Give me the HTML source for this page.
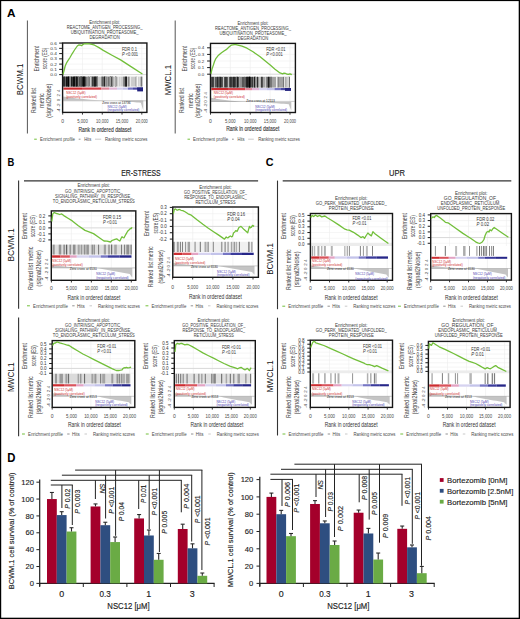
<!DOCTYPE html>
<html><head><meta charset="utf-8"><style>
html,body{margin:0;padding:0;background:#fff;}
body{width:520px;height:619px;overflow:hidden;}
svg{display:block;font-family:"Liberation Sans",sans-serif;}
</style></head><body>
<svg width="520" height="619" viewBox="0 0 520 619">
<rect x="0.00" y="0.00" width="520.00" height="619.00" fill="#fff" />
<text x="6.90" y="16.50" font-size="11.52" font-weight="bold" fill="#000" textLength="8.50" lengthAdjust="spacingAndGlyphs" stroke="#000" stroke-width="0.000">A</text>
<text x="7.40" y="166.30" font-size="11.39" font-weight="bold" fill="#000" textLength="6.80" lengthAdjust="spacingAndGlyphs" stroke="#000" stroke-width="0.000">B</text>
<text x="265.80" y="165.90" font-size="11.11" font-weight="bold" fill="#000" textLength="7.80" lengthAdjust="spacingAndGlyphs" stroke="#000" stroke-width="0.000">C</text>
<text x="7.20" y="461.70" font-size="11.93" font-weight="bold" fill="#000" textLength="8.20" lengthAdjust="spacingAndGlyphs" stroke="#000" stroke-width="0.000">D</text>
<line x1="39.70" y1="479.38" x2="39.70" y2="586.20" stroke="#222" stroke-width="1.2" />
<line x1="39.20" y1="583.40" x2="214.60" y2="583.40" stroke="#222" stroke-width="1.1" />
<line x1="36.40" y1="583.40" x2="39.70" y2="583.40" stroke="#222" stroke-width="1" />
<text x="34.00" y="586.10" font-size="7.6" text-anchor="end" fill="#222" font-weight="normal" stroke="#222" stroke-width="0.137">0</text>
<line x1="36.40" y1="566.53" x2="39.70" y2="566.53" stroke="#222" stroke-width="1" />
<text x="34.00" y="569.23" font-size="7.6" text-anchor="end" fill="#222" font-weight="normal" stroke="#222" stroke-width="0.137">20</text>
<line x1="36.40" y1="549.66" x2="39.70" y2="549.66" stroke="#222" stroke-width="1" />
<text x="34.00" y="552.36" font-size="7.6" text-anchor="end" fill="#222" font-weight="normal" stroke="#222" stroke-width="0.137">40</text>
<line x1="36.40" y1="532.79" x2="39.70" y2="532.79" stroke="#222" stroke-width="1" />
<text x="34.00" y="535.49" font-size="7.6" text-anchor="end" fill="#222" font-weight="normal" stroke="#222" stroke-width="0.137">60</text>
<line x1="36.40" y1="515.92" x2="39.70" y2="515.92" stroke="#222" stroke-width="1" />
<text x="34.00" y="518.62" font-size="7.6" text-anchor="end" fill="#222" font-weight="normal" stroke="#222" stroke-width="0.137">80</text>
<line x1="36.40" y1="499.05" x2="39.70" y2="499.05" stroke="#222" stroke-width="1" />
<text x="34.00" y="501.75" font-size="7.6" text-anchor="end" fill="#222" font-weight="normal" stroke="#222" stroke-width="0.137">100</text>
<line x1="36.40" y1="482.18" x2="39.70" y2="482.18" stroke="#222" stroke-width="1" />
<text x="34.00" y="484.88" font-size="7.6" text-anchor="end" fill="#222" font-weight="normal" stroke="#222" stroke-width="0.137">120</text>
<line x1="39.70" y1="583.40" x2="39.70" y2="587.00" stroke="#222" stroke-width="1" />
<line x1="83.30" y1="583.40" x2="83.30" y2="587.00" stroke="#222" stroke-width="1" />
<line x1="126.90" y1="583.40" x2="126.90" y2="587.00" stroke="#222" stroke-width="1" />
<line x1="170.50" y1="583.40" x2="170.50" y2="587.00" stroke="#222" stroke-width="1" />
<line x1="214.10" y1="583.40" x2="214.10" y2="587.00" stroke="#222" stroke-width="1" />
<rect x="47.00" y="499.05" width="9.80" height="84.35" fill="#a4002b" />
<line x1="51.90" y1="499.05" x2="51.90" y2="492.47" stroke="#2a2a2a" stroke-width="1.1" />
<line x1="49.90" y1="492.47" x2="53.90" y2="492.47" stroke="#2a2a2a" stroke-width="1.1" />
<rect x="56.80" y="515.08" width="9.80" height="68.32" fill="#2e4e80" />
<line x1="61.70" y1="515.08" x2="61.70" y2="511.70" stroke="#2a2a2a" stroke-width="1.1" />
<line x1="59.70" y1="511.70" x2="63.70" y2="511.70" stroke="#2a2a2a" stroke-width="1.1" />
<rect x="66.60" y="531.52" width="9.80" height="51.88" fill="#6aab45" />
<line x1="71.50" y1="531.52" x2="71.50" y2="527.73" stroke="#2a2a2a" stroke-width="1.1" />
<line x1="69.50" y1="527.73" x2="73.50" y2="527.73" stroke="#2a2a2a" stroke-width="1.1" />
<rect x="90.60" y="506.47" width="9.80" height="76.93" fill="#a4002b" />
<line x1="95.50" y1="506.47" x2="95.50" y2="503.94" stroke="#2a2a2a" stroke-width="1.1" />
<line x1="93.50" y1="503.94" x2="97.50" y2="503.94" stroke="#2a2a2a" stroke-width="1.1" />
<rect x="100.40" y="525.20" width="9.80" height="58.20" fill="#2e4e80" />
<line x1="105.30" y1="525.20" x2="105.30" y2="522.25" stroke="#2a2a2a" stroke-width="1.1" />
<line x1="103.30" y1="522.25" x2="107.30" y2="522.25" stroke="#2a2a2a" stroke-width="1.1" />
<rect x="110.20" y="542.07" width="9.80" height="41.33" fill="#6aab45" />
<line x1="115.10" y1="542.07" x2="115.10" y2="537.01" stroke="#2a2a2a" stroke-width="1.1" />
<line x1="113.10" y1="537.01" x2="117.10" y2="537.01" stroke="#2a2a2a" stroke-width="1.1" />
<rect x="134.20" y="518.45" width="9.80" height="64.95" fill="#a4002b" />
<line x1="139.10" y1="518.45" x2="139.10" y2="514.57" stroke="#2a2a2a" stroke-width="1.1" />
<line x1="137.10" y1="514.57" x2="141.10" y2="514.57" stroke="#2a2a2a" stroke-width="1.1" />
<rect x="144.00" y="535.49" width="9.80" height="47.91" fill="#2e4e80" />
<line x1="148.90" y1="535.49" x2="148.90" y2="530.01" stroke="#2a2a2a" stroke-width="1.1" />
<line x1="146.90" y1="530.01" x2="150.90" y2="530.01" stroke="#2a2a2a" stroke-width="1.1" />
<rect x="153.80" y="559.78" width="9.80" height="23.62" fill="#6aab45" />
<line x1="158.70" y1="559.78" x2="158.70" y2="553.46" stroke="#2a2a2a" stroke-width="1.1" />
<line x1="156.70" y1="553.46" x2="160.70" y2="553.46" stroke="#2a2a2a" stroke-width="1.1" />
<rect x="177.80" y="528.99" width="9.80" height="54.41" fill="#a4002b" />
<line x1="182.70" y1="528.99" x2="182.70" y2="524.19" stroke="#2a2a2a" stroke-width="1.1" />
<line x1="180.70" y1="524.19" x2="184.70" y2="524.19" stroke="#2a2a2a" stroke-width="1.1" />
<rect x="187.60" y="548.31" width="9.80" height="35.09" fill="#2e4e80" />
<line x1="192.50" y1="548.31" x2="192.50" y2="543.84" stroke="#2a2a2a" stroke-width="1.1" />
<line x1="190.50" y1="543.84" x2="194.50" y2="543.84" stroke="#2a2a2a" stroke-width="1.1" />
<rect x="197.40" y="575.81" width="9.80" height="7.59" fill="#6aab45" />
<line x1="202.30" y1="575.81" x2="202.30" y2="573.02" stroke="#2a2a2a" stroke-width="1.1" />
<line x1="200.30" y1="573.02" x2="204.30" y2="573.02" stroke="#2a2a2a" stroke-width="1.1" />
<text x="14.10" y="530.90" font-size="8.0" text-anchor="middle" fill="#222" font-weight="normal" textLength="116.80" lengthAdjust="spacingAndGlyphs" transform="rotate(-90 14.10 530.90)" stroke="#222" stroke-width="0.144">BCWM.1 cell survival (% of control)</text>
<text x="61.60" y="596.50" font-size="8.9" text-anchor="middle" fill="#222" font-weight="normal" stroke="#222" stroke-width="0.160">0</text>
<text x="105.10" y="596.50" font-size="8.9" text-anchor="middle" fill="#222" font-weight="normal" textLength="11.30" lengthAdjust="spacingAndGlyphs" stroke="#222" stroke-width="0.160">0.3</text>
<text x="148.70" y="596.50" font-size="8.9" text-anchor="middle" fill="#222" font-weight="normal" stroke="#222" stroke-width="0.160">1</text>
<text x="192.20" y="596.50" font-size="8.9" text-anchor="middle" fill="#222" font-weight="normal" stroke="#222" stroke-width="0.160">3</text>
<text x="128.50" y="609.30" font-size="9.6" text-anchor="middle" fill="#222" font-weight="normal" textLength="42.30" lengthAdjust="spacingAndGlyphs" stroke="#222" stroke-width="0.173">NSC12 [μM]</text>
<line x1="259.80" y1="476.80" x2="259.80" y2="586.20" stroke="#222" stroke-width="1.2" />
<line x1="259.30" y1="583.40" x2="434.70" y2="583.40" stroke="#222" stroke-width="1.1" />
<line x1="256.50" y1="583.40" x2="259.80" y2="583.40" stroke="#222" stroke-width="1" />
<text x="253.30" y="586.10" font-size="7.6" text-anchor="end" fill="#222" font-weight="normal" stroke="#222" stroke-width="0.137">0</text>
<line x1="256.50" y1="566.10" x2="259.80" y2="566.10" stroke="#222" stroke-width="1" />
<text x="253.30" y="568.80" font-size="7.6" text-anchor="end" fill="#222" font-weight="normal" stroke="#222" stroke-width="0.137">20</text>
<line x1="256.50" y1="548.80" x2="259.80" y2="548.80" stroke="#222" stroke-width="1" />
<text x="253.30" y="551.50" font-size="7.6" text-anchor="end" fill="#222" font-weight="normal" stroke="#222" stroke-width="0.137">40</text>
<line x1="256.50" y1="531.50" x2="259.80" y2="531.50" stroke="#222" stroke-width="1" />
<text x="253.30" y="534.20" font-size="7.6" text-anchor="end" fill="#222" font-weight="normal" stroke="#222" stroke-width="0.137">60</text>
<line x1="256.50" y1="514.20" x2="259.80" y2="514.20" stroke="#222" stroke-width="1" />
<text x="253.30" y="516.90" font-size="7.6" text-anchor="end" fill="#222" font-weight="normal" stroke="#222" stroke-width="0.137">80</text>
<line x1="256.50" y1="496.90" x2="259.80" y2="496.90" stroke="#222" stroke-width="1" />
<text x="253.30" y="499.60" font-size="7.6" text-anchor="end" fill="#222" font-weight="normal" stroke="#222" stroke-width="0.137">100</text>
<line x1="256.50" y1="479.60" x2="259.80" y2="479.60" stroke="#222" stroke-width="1" />
<text x="253.30" y="482.30" font-size="7.6" text-anchor="end" fill="#222" font-weight="normal" stroke="#222" stroke-width="0.137">120</text>
<line x1="259.80" y1="583.40" x2="259.80" y2="587.00" stroke="#222" stroke-width="1" />
<line x1="303.40" y1="583.40" x2="303.40" y2="587.00" stroke="#222" stroke-width="1" />
<line x1="347.00" y1="583.40" x2="347.00" y2="587.00" stroke="#222" stroke-width="1" />
<line x1="390.60" y1="583.40" x2="390.60" y2="587.00" stroke="#222" stroke-width="1" />
<line x1="434.20" y1="583.40" x2="434.20" y2="587.00" stroke="#222" stroke-width="1" />
<rect x="266.50" y="496.90" width="9.80" height="86.50" fill="#a4002b" />
<line x1="271.40" y1="496.90" x2="271.40" y2="493.09" stroke="#2a2a2a" stroke-width="1.1" />
<line x1="269.40" y1="493.09" x2="273.40" y2="493.09" stroke="#2a2a2a" stroke-width="1.1" />
<rect x="276.30" y="514.20" width="9.80" height="69.20" fill="#2e4e80" />
<line x1="281.20" y1="514.20" x2="281.20" y2="510.39" stroke="#2a2a2a" stroke-width="1.1" />
<line x1="279.20" y1="510.39" x2="283.20" y2="510.39" stroke="#2a2a2a" stroke-width="1.1" />
<rect x="286.10" y="536.17" width="9.80" height="47.23" fill="#6aab45" />
<line x1="291.00" y1="536.17" x2="291.00" y2="533.49" stroke="#2a2a2a" stroke-width="1.1" />
<line x1="289.00" y1="533.49" x2="293.00" y2="533.49" stroke="#2a2a2a" stroke-width="1.1" />
<rect x="310.10" y="503.99" width="9.80" height="79.41" fill="#a4002b" />
<line x1="315.00" y1="503.99" x2="315.00" y2="500.62" stroke="#2a2a2a" stroke-width="1.1" />
<line x1="313.00" y1="500.62" x2="317.00" y2="500.62" stroke="#2a2a2a" stroke-width="1.1" />
<rect x="319.90" y="523.28" width="9.80" height="60.12" fill="#2e4e80" />
<line x1="324.80" y1="523.28" x2="324.80" y2="520.95" stroke="#2a2a2a" stroke-width="1.1" />
<line x1="322.80" y1="520.95" x2="326.80" y2="520.95" stroke="#2a2a2a" stroke-width="1.1" />
<rect x="329.70" y="544.99" width="9.80" height="38.41" fill="#6aab45" />
<line x1="334.60" y1="544.99" x2="334.60" y2="541.01" stroke="#2a2a2a" stroke-width="1.1" />
<line x1="332.60" y1="541.01" x2="336.60" y2="541.01" stroke="#2a2a2a" stroke-width="1.1" />
<rect x="353.70" y="512.73" width="9.80" height="70.67" fill="#a4002b" />
<line x1="358.60" y1="512.73" x2="358.60" y2="510.05" stroke="#2a2a2a" stroke-width="1.1" />
<line x1="356.60" y1="510.05" x2="360.60" y2="510.05" stroke="#2a2a2a" stroke-width="1.1" />
<rect x="363.50" y="533.49" width="9.80" height="49.91" fill="#2e4e80" />
<line x1="368.40" y1="533.49" x2="368.40" y2="528.39" stroke="#2a2a2a" stroke-width="1.1" />
<line x1="366.40" y1="528.39" x2="370.40" y2="528.39" stroke="#2a2a2a" stroke-width="1.1" />
<rect x="373.30" y="559.53" width="9.80" height="23.87" fill="#6aab45" />
<line x1="378.20" y1="559.53" x2="378.20" y2="553.04" stroke="#2a2a2a" stroke-width="1.1" />
<line x1="376.20" y1="553.04" x2="380.20" y2="553.04" stroke="#2a2a2a" stroke-width="1.1" />
<rect x="397.30" y="528.82" width="9.80" height="54.58" fill="#a4002b" />
<line x1="402.20" y1="528.82" x2="402.20" y2="526.05" stroke="#2a2a2a" stroke-width="1.1" />
<line x1="400.20" y1="526.05" x2="404.20" y2="526.05" stroke="#2a2a2a" stroke-width="1.1" />
<rect x="407.10" y="547.33" width="9.80" height="36.07" fill="#2e4e80" />
<line x1="412.00" y1="547.33" x2="412.00" y2="544.99" stroke="#2a2a2a" stroke-width="1.1" />
<line x1="410.00" y1="544.99" x2="414.00" y2="544.99" stroke="#2a2a2a" stroke-width="1.1" />
<rect x="416.90" y="573.19" width="9.80" height="10.21" fill="#6aab45" />
<line x1="421.80" y1="573.19" x2="421.80" y2="566.45" stroke="#2a2a2a" stroke-width="1.1" />
<line x1="419.80" y1="566.45" x2="423.80" y2="566.45" stroke="#2a2a2a" stroke-width="1.1" />
<text x="233.00" y="529.65" font-size="8.0" text-anchor="middle" fill="#222" font-weight="normal" textLength="114.70" lengthAdjust="spacingAndGlyphs" transform="rotate(-90 233.00 529.65)" stroke="#222" stroke-width="0.144">MWCL.1 cell survival (% of control)</text>
<text x="281.20" y="596.50" font-size="8.9" text-anchor="middle" fill="#222" font-weight="normal" stroke="#222" stroke-width="0.160">0</text>
<text x="324.80" y="596.50" font-size="8.9" text-anchor="middle" fill="#222" font-weight="normal" textLength="11.30" lengthAdjust="spacingAndGlyphs" stroke="#222" stroke-width="0.160">0.3</text>
<text x="368.20" y="596.50" font-size="8.9" text-anchor="middle" fill="#222" font-weight="normal" stroke="#222" stroke-width="0.160">1</text>
<text x="411.50" y="596.50" font-size="8.9" text-anchor="middle" fill="#222" font-weight="normal" stroke="#222" stroke-width="0.160">3</text>
<text x="348.30" y="609.30" font-size="9.6" text-anchor="middle" fill="#222" font-weight="normal" textLength="42.30" lengthAdjust="spacingAndGlyphs" stroke="#222" stroke-width="0.173">NSC12 [μM]</text>
<line x1="75.10" y1="470.10" x2="202.40" y2="470.10" stroke="#222" stroke-width="1" />
<line x1="61.90" y1="475.20" x2="192.20" y2="475.20" stroke="#222" stroke-width="1" />
<line x1="50.80" y1="480.30" x2="181.80" y2="480.30" stroke="#222" stroke-width="1" />
<line x1="50.80" y1="485.00" x2="72.80" y2="485.00" stroke="#222" stroke-width="1" />
<line x1="61.90" y1="485.00" x2="61.90" y2="508.00" stroke="#222" stroke-width="1" />
<line x1="72.30" y1="485.00" x2="72.30" y2="525.00" stroke="#222" stroke-width="1" />
<line x1="95.40" y1="480.30" x2="95.40" y2="499.00" stroke="#222" stroke-width="1" />
<line x1="138.70" y1="480.30" x2="138.70" y2="509.00" stroke="#222" stroke-width="1" />
<line x1="181.30" y1="480.30" x2="181.30" y2="512.30" stroke="#222" stroke-width="1" />
<line x1="105.60" y1="475.20" x2="105.60" y2="518.50" stroke="#222" stroke-width="1" />
<line x1="149.20" y1="475.20" x2="149.20" y2="529.00" stroke="#222" stroke-width="1" />
<line x1="191.70" y1="475.20" x2="191.70" y2="541.50" stroke="#222" stroke-width="1" />
<line x1="115.60" y1="470.10" x2="115.60" y2="535.80" stroke="#222" stroke-width="1" />
<line x1="159.40" y1="470.10" x2="159.40" y2="552.00" stroke="#222" stroke-width="1" />
<line x1="201.90" y1="470.10" x2="201.90" y2="570.00" stroke="#222" stroke-width="1" />
<line x1="294.40" y1="464.20" x2="422.00" y2="464.20" stroke="#222" stroke-width="1" />
<line x1="281.00" y1="469.30" x2="412.80" y2="469.30" stroke="#222" stroke-width="1" />
<line x1="270.40" y1="474.20" x2="402.50" y2="474.20" stroke="#222" stroke-width="1" />
<line x1="270.40" y1="479.40" x2="293.00" y2="479.40" stroke="#222" stroke-width="1" />
<line x1="282.00" y1="479.40" x2="282.00" y2="506.00" stroke="#222" stroke-width="1" />
<line x1="292.50" y1="479.40" x2="292.50" y2="530.00" stroke="#222" stroke-width="1" />
<line x1="316.00" y1="474.20" x2="316.00" y2="497.00" stroke="#222" stroke-width="1" />
<line x1="359.20" y1="474.20" x2="359.20" y2="502.30" stroke="#222" stroke-width="1" />
<line x1="402.00" y1="474.20" x2="402.00" y2="505.80" stroke="#222" stroke-width="1" />
<line x1="325.60" y1="469.30" x2="325.60" y2="517.00" stroke="#222" stroke-width="1" />
<line x1="369.20" y1="469.30" x2="369.20" y2="519.60" stroke="#222" stroke-width="1" />
<line x1="412.30" y1="469.30" x2="412.30" y2="543.80" stroke="#222" stroke-width="1" />
<line x1="334.50" y1="464.20" x2="334.50" y2="537.00" stroke="#222" stroke-width="1" />
<line x1="379.50" y1="464.20" x2="379.50" y2="542.70" stroke="#222" stroke-width="1" />
<line x1="421.50" y1="464.20" x2="421.50" y2="565.80" stroke="#222" stroke-width="1" />
<text x="70.10" y="498.75" font-size="7.4" text-anchor="middle" fill="#222" textLength="20.10" lengthAdjust="spacingAndGlyphs" transform="rotate(-90 70.10 498.75)" stroke="#222" stroke-width="0.133"><tspan font-style="italic">P</tspan> 0.02</text>
<text x="79.70" y="501.65" font-size="7.4" text-anchor="middle" fill="#222" textLength="24.10" lengthAdjust="spacingAndGlyphs" transform="rotate(-90 79.70 501.65)" stroke="#222" stroke-width="0.133"><tspan font-style="italic">P</tspan> 0.003</text>
<text x="104.70" y="488.65" font-size="7.4" text-anchor="middle" fill="#222" font-style="italic" textLength="9.70" lengthAdjust="spacingAndGlyphs" transform="rotate(-90 104.70 488.65)" stroke="#222" stroke-width="0.133">NS</text>
<text x="114.30" y="500.20" font-size="7.4" text-anchor="middle" fill="#222" textLength="27.00" lengthAdjust="spacingAndGlyphs" transform="rotate(-90 114.30 500.20)" stroke="#222" stroke-width="0.133"><tspan font-style="italic">P</tspan> &lt;0.001</text>
<text x="123.90" y="511.65" font-size="7.4" text-anchor="middle" fill="#222" textLength="19.30" lengthAdjust="spacingAndGlyphs" transform="rotate(-90 123.90 511.65)" stroke="#222" stroke-width="0.133"><tspan font-style="italic">P</tspan> 0.04</text>
<text x="146.10" y="493.90" font-size="7.4" text-anchor="middle" fill="#222" textLength="18.20" lengthAdjust="spacingAndGlyphs" transform="rotate(-90 146.10 493.90)" stroke="#222" stroke-width="0.133"><tspan font-style="italic">P</tspan> 0.01</text>
<text x="156.60" y="501.80" font-size="7.4" text-anchor="middle" fill="#222" textLength="27.60" lengthAdjust="spacingAndGlyphs" transform="rotate(-90 156.60 501.80)" stroke="#222" stroke-width="0.133"><tspan font-style="italic">P</tspan> &lt;0.001</text>
<text x="167.20" y="522.30" font-size="7.4" text-anchor="middle" fill="#222" textLength="23.00" lengthAdjust="spacingAndGlyphs" transform="rotate(-90 167.20 522.30)" stroke="#222" stroke-width="0.133"><tspan font-style="italic">P</tspan> 0.005</text>
<text x="189.10" y="496.30" font-size="7.4" text-anchor="middle" fill="#222" textLength="25.00" lengthAdjust="spacingAndGlyphs" transform="rotate(-90 189.10 496.30)" stroke="#222" stroke-width="0.133"><tspan font-style="italic">P</tspan> 0.004</text>
<text x="199.70" y="509.35" font-size="7.4" text-anchor="middle" fill="#222" textLength="27.90" lengthAdjust="spacingAndGlyphs" transform="rotate(-90 199.70 509.35)" stroke="#222" stroke-width="0.133"><tspan font-style="italic">P</tspan> &lt;0.001</text>
<text x="210.30" y="531.45" font-size="7.4" text-anchor="middle" fill="#222" textLength="27.90" lengthAdjust="spacingAndGlyphs" transform="rotate(-90 210.30 531.45)" stroke="#222" stroke-width="0.133"><tspan font-style="italic">P</tspan> &lt;0.001</text>
<text x="289.90" y="494.50" font-size="7.4" text-anchor="middle" fill="#222" textLength="25.00" lengthAdjust="spacingAndGlyphs" transform="rotate(-90 289.90 494.50)" stroke="#222" stroke-width="0.133"><tspan font-style="italic">P</tspan> 0.006</text>
<text x="298.90" y="498.25" font-size="7.4" text-anchor="middle" fill="#222" textLength="28.90" lengthAdjust="spacingAndGlyphs" transform="rotate(-90 298.90 498.25)" stroke="#222" stroke-width="0.133"><tspan font-style="italic">P</tspan> &lt;0.001</text>
<text x="323.00" y="484.80" font-size="7.4" text-anchor="middle" fill="#222" font-style="italic" textLength="9.60" lengthAdjust="spacingAndGlyphs" transform="rotate(-90 323.00 484.80)" stroke="#222" stroke-width="0.133">NS</text>
<text x="333.00" y="501.75" font-size="7.4" text-anchor="middle" fill="#222" textLength="19.50" lengthAdjust="spacingAndGlyphs" transform="rotate(-90 333.00 501.75)" stroke="#222" stroke-width="0.133"><tspan font-style="italic">P</tspan> 0.03</text>
<text x="343.40" y="518.50" font-size="7.4" text-anchor="middle" fill="#222" textLength="25.40" lengthAdjust="spacingAndGlyphs" transform="rotate(-90 343.40 518.50)" stroke="#222" stroke-width="0.133"><tspan font-style="italic">P</tspan> 0.002</text>
<text x="366.60" y="487.90" font-size="7.4" text-anchor="middle" fill="#222" textLength="24.20" lengthAdjust="spacingAndGlyphs" transform="rotate(-90 366.60 487.90)" stroke="#222" stroke-width="0.133"><tspan font-style="italic">P</tspan> 0.008</text>
<text x="377.40" y="503.50" font-size="7.4" text-anchor="middle" fill="#222" textLength="23.00" lengthAdjust="spacingAndGlyphs" transform="rotate(-90 377.40 503.50)" stroke="#222" stroke-width="0.133"><tspan font-style="italic">P</tspan> 0.005</text>
<text x="388.40" y="525.90" font-size="7.4" text-anchor="middle" fill="#222" textLength="24.20" lengthAdjust="spacingAndGlyphs" transform="rotate(-90 388.40 525.90)" stroke="#222" stroke-width="0.133"><tspan font-style="italic">P</tspan> 0.009</text>
<text x="409.80" y="490.80" font-size="7.4" text-anchor="middle" fill="#222" textLength="27.60" lengthAdjust="spacingAndGlyphs" transform="rotate(-90 409.80 490.80)" stroke="#222" stroke-width="0.133"><tspan font-style="italic">P</tspan> &lt;0.001</text>
<text x="420.10" y="505.80" font-size="7.4" text-anchor="middle" fill="#222" textLength="27.60" lengthAdjust="spacingAndGlyphs" transform="rotate(-90 420.10 505.80)" stroke="#222" stroke-width="0.133"><tspan font-style="italic">P</tspan> &lt;0.001</text>
<text x="431.40" y="528.20" font-size="7.4" text-anchor="middle" fill="#222" textLength="24.40" lengthAdjust="spacingAndGlyphs" transform="rotate(-90 431.40 528.20)" stroke="#222" stroke-width="0.133"><tspan font-style="italic">P</tspan> 0.004</text>
<rect x="439.80" y="478.10" width="3.80" height="3.80" fill="#a4002b" />
<text x="447.00" y="482.80" font-size="7.8" text-anchor="start" fill="#222" font-weight="normal" textLength="60.50" lengthAdjust="spacingAndGlyphs" stroke="#222" stroke-width="0.140">Bortezomib [0nM]</text>
<rect x="439.80" y="488.90" width="3.80" height="3.80" fill="#2e4e80" />
<text x="447.00" y="493.60" font-size="7.8" text-anchor="start" fill="#222" font-weight="normal" textLength="66.30" lengthAdjust="spacingAndGlyphs" stroke="#222" stroke-width="0.140">Bortezomib [2.5nM]</text>
<rect x="439.80" y="499.80" width="3.80" height="3.80" fill="#6aab45" />
<text x="447.00" y="504.50" font-size="7.8" text-anchor="start" fill="#222" font-weight="normal" textLength="60.50" lengthAdjust="spacingAndGlyphs" stroke="#222" stroke-width="0.140">Bortezomib [5nM]</text>
<line x1="82.48" y1="44.00" x2="82.48" y2="76.60" stroke="#ececec" stroke-width="0.6" />
<line x1="82.48" y1="89.70" x2="82.48" y2="112.40" stroke="#ececec" stroke-width="0.6" />
<line x1="102.25" y1="44.00" x2="102.25" y2="76.60" stroke="#ececec" stroke-width="0.6" />
<line x1="102.25" y1="89.70" x2="102.25" y2="112.40" stroke="#ececec" stroke-width="0.6" />
<line x1="122.03" y1="44.00" x2="122.03" y2="76.60" stroke="#ececec" stroke-width="0.6" />
<line x1="122.03" y1="89.70" x2="122.03" y2="112.40" stroke="#ececec" stroke-width="0.6" />
<line x1="141.80" y1="44.00" x2="141.80" y2="76.60" stroke="#ececec" stroke-width="0.6" />
<line x1="141.80" y1="89.70" x2="141.80" y2="112.40" stroke="#ececec" stroke-width="0.6" />
<line x1="62.60" y1="48.35" x2="146.90" y2="48.35" stroke="#efefef" stroke-width="0.6" />
<line x1="62.60" y1="53.60" x2="146.90" y2="53.60" stroke="#efefef" stroke-width="0.6" />
<line x1="62.60" y1="58.85" x2="146.90" y2="58.85" stroke="#efefef" stroke-width="0.6" />
<line x1="62.60" y1="64.10" x2="146.90" y2="64.10" stroke="#efefef" stroke-width="0.6" />
<line x1="62.60" y1="69.35" x2="146.90" y2="69.35" stroke="#efefef" stroke-width="0.6" />
<line x1="62.60" y1="74.60" x2="146.90" y2="74.60" stroke="#d8d8d8" stroke-width="1.0" />
<rect x="63.30" y="76.60" width="21.70" height="10.00" fill="rgba(0,0,0,0.72)" />
<line x1="68.46" y1="76.60" x2="68.46" y2="86.60" stroke="rgba(0,0,0,0.72)" stroke-width="0.83" />
<line x1="76.41" y1="76.60" x2="76.41" y2="86.60" stroke="rgba(0,0,0,0.75)" stroke-width="0.56" />
<line x1="63.59" y1="76.60" x2="63.59" y2="86.60" stroke="rgba(0,0,0,0.83)" stroke-width="0.73" />
<line x1="68.38" y1="76.60" x2="68.38" y2="86.60" stroke="rgba(0,0,0,0.90)" stroke-width="0.92" />
<line x1="81.45" y1="76.60" x2="81.45" y2="86.60" stroke="rgba(0,0,0,0.69)" stroke-width="1.08" />
<line x1="66.57" y1="76.60" x2="66.57" y2="86.60" stroke="rgba(0,0,0,0.75)" stroke-width="1.28" />
<line x1="74.65" y1="76.60" x2="74.65" y2="86.60" stroke="rgba(0,0,0,0.80)" stroke-width="1.10" />
<line x1="64.69" y1="76.60" x2="64.69" y2="86.60" stroke="rgba(0,0,0,0.80)" stroke-width="1.03" />
<line x1="69.84" y1="76.60" x2="69.84" y2="86.60" stroke="rgba(0,0,0,0.51)" stroke-width="1.28" />
<line x1="73.56" y1="76.60" x2="73.56" y2="86.60" stroke="rgba(0,0,0,0.79)" stroke-width="1.29" />
<line x1="78.80" y1="76.60" x2="78.80" y2="86.60" stroke="rgba(0,0,0,0.87)" stroke-width="0.86" />
<line x1="80.68" y1="76.60" x2="80.68" y2="86.60" stroke="rgba(0,0,0,0.68)" stroke-width="1.34" />
<line x1="82.37" y1="76.60" x2="82.37" y2="86.60" stroke="rgba(0,0,0,0.54)" stroke-width="0.62" />
<line x1="68.01" y1="76.60" x2="68.01" y2="86.60" stroke="rgba(0,0,0,0.89)" stroke-width="0.89" />
<line x1="76.90" y1="76.60" x2="76.90" y2="86.60" stroke="rgba(0,0,0,0.62)" stroke-width="0.96" />
<line x1="71.67" y1="76.60" x2="71.67" y2="86.60" stroke="rgba(0,0,0,0.64)" stroke-width="1.03" />
<line x1="75.98" y1="76.60" x2="75.98" y2="86.60" stroke="rgba(0,0,0,0.86)" stroke-width="1.11" />
<line x1="83.46" y1="76.60" x2="83.46" y2="86.60" stroke="rgba(0,0,0,0.84)" stroke-width="1.39" />
<line x1="77.87" y1="76.60" x2="77.87" y2="86.60" stroke="rgba(0,0,0,0.57)" stroke-width="1.27" />
<line x1="84.23" y1="76.60" x2="84.23" y2="86.60" stroke="rgba(0,0,0,0.86)" stroke-width="1.01" />
<line x1="78.36" y1="76.60" x2="78.36" y2="86.60" stroke="rgba(255,255,255,0.58)" stroke-width="0.90" />
<line x1="75.60" y1="76.60" x2="75.60" y2="86.60" stroke="rgba(255,255,255,0.61)" stroke-width="0.44" />
<line x1="81.12" y1="76.60" x2="81.12" y2="86.60" stroke="rgba(255,255,255,0.90)" stroke-width="0.45" />
<line x1="80.07" y1="76.60" x2="80.07" y2="86.60" stroke="rgba(255,255,255,0.66)" stroke-width="0.49" />
<line x1="70.09" y1="76.60" x2="70.09" y2="86.60" stroke="rgba(255,255,255,0.81)" stroke-width="0.92" />
<line x1="65.17" y1="76.60" x2="65.17" y2="86.60" stroke="rgba(255,255,255,0.75)" stroke-width="0.43" />
<rect x="85.00" y="76.60" width="11.00" height="10.00" fill="rgba(0,0,0,0.50)" />
<line x1="92.90" y1="76.60" x2="92.90" y2="86.60" stroke="rgba(0,0,0,0.63)" stroke-width="1.29" />
<line x1="95.79" y1="76.60" x2="95.79" y2="86.60" stroke="rgba(0,0,0,0.70)" stroke-width="1.40" />
<line x1="88.41" y1="76.60" x2="88.41" y2="86.60" stroke="rgba(0,0,0,0.53)" stroke-width="1.04" />
<line x1="85.35" y1="76.60" x2="85.35" y2="86.60" stroke="rgba(0,0,0,0.58)" stroke-width="0.87" />
<line x1="91.72" y1="76.60" x2="91.72" y2="86.60" stroke="rgba(0,0,0,0.56)" stroke-width="0.54" />
<line x1="94.55" y1="76.60" x2="94.55" y2="86.60" stroke="rgba(0,0,0,0.63)" stroke-width="1.36" />
<line x1="94.86" y1="76.60" x2="94.86" y2="86.60" stroke="rgba(0,0,0,0.65)" stroke-width="0.91" />
<line x1="90.72" y1="76.60" x2="90.72" y2="86.60" stroke="rgba(0,0,0,0.76)" stroke-width="1.04" />
<line x1="91.03" y1="76.60" x2="91.03" y2="86.60" stroke="rgba(255,255,255,0.75)" stroke-width="0.96" />
<line x1="90.56" y1="76.60" x2="90.56" y2="86.60" stroke="rgba(255,255,255,0.67)" stroke-width="0.83" />
<line x1="88.14" y1="76.60" x2="88.14" y2="86.60" stroke="rgba(255,255,255,0.62)" stroke-width="0.99" />
<line x1="90.69" y1="76.60" x2="90.69" y2="86.60" stroke="rgba(255,255,255,0.72)" stroke-width="0.41" />
<rect x="96.00" y="76.60" width="47.00" height="10.00" fill="rgba(0,0,0,0.20)" />
<line x1="115.51" y1="76.60" x2="115.51" y2="86.60" stroke="rgba(0,0,0,0.73)" stroke-width="0.52" />
<line x1="124.94" y1="76.60" x2="124.94" y2="86.60" stroke="rgba(0,0,0,0.75)" stroke-width="0.55" />
<line x1="125.49" y1="76.60" x2="125.49" y2="86.60" stroke="rgba(0,0,0,0.69)" stroke-width="1.11" />
<line x1="112.57" y1="76.60" x2="112.57" y2="86.60" stroke="rgba(0,0,0,0.78)" stroke-width="1.16" />
<line x1="97.04" y1="76.60" x2="97.04" y2="86.60" stroke="rgba(0,0,0,0.52)" stroke-width="1.11" />
<line x1="141.28" y1="76.60" x2="141.28" y2="86.60" stroke="rgba(0,0,0,0.60)" stroke-width="0.91" />
<line x1="123.86" y1="76.60" x2="123.86" y2="86.60" stroke="rgba(0,0,0,0.63)" stroke-width="0.83" />
<line x1="110.70" y1="76.60" x2="110.70" y2="86.60" stroke="rgba(0,0,0,0.65)" stroke-width="1.04" />
<line x1="110.12" y1="76.60" x2="110.12" y2="86.60" stroke="rgba(0,0,0,0.65)" stroke-width="1.20" />
<line x1="97.27" y1="76.60" x2="97.27" y2="86.60" stroke="rgba(0,0,0,0.73)" stroke-width="1.16" />
<line x1="110.57" y1="76.60" x2="110.57" y2="86.60" stroke="rgba(0,0,0,0.59)" stroke-width="1.22" />
<line x1="107.22" y1="76.60" x2="107.22" y2="86.60" stroke="rgba(0,0,0,0.57)" stroke-width="0.89" />
<line x1="128.81" y1="76.60" x2="128.81" y2="86.60" stroke="rgba(0,0,0,0.54)" stroke-width="0.79" />
<line x1="111.69" y1="76.60" x2="111.69" y2="86.60" stroke="rgba(0,0,0,0.83)" stroke-width="0.89" />
<line x1="136.21" y1="76.60" x2="136.21" y2="86.60" stroke="rgba(0,0,0,0.57)" stroke-width="0.80" />
<line x1="126.56" y1="76.60" x2="126.56" y2="86.60" stroke="rgba(0,0,0,0.85)" stroke-width="0.91" />
<line x1="106.58" y1="76.60" x2="106.58" y2="86.60" stroke="rgba(0,0,0,0.55)" stroke-width="0.98" />
<line x1="104.97" y1="76.60" x2="104.97" y2="86.60" stroke="rgba(0,0,0,0.82)" stroke-width="1.25" />
<line x1="104.63" y1="76.60" x2="104.63" y2="86.60" stroke="rgba(0,0,0,0.61)" stroke-width="1.23" />
<line x1="126.17" y1="76.60" x2="126.17" y2="86.60" stroke="rgba(0,0,0,0.82)" stroke-width="0.81" />
<line x1="102.10" y1="76.60" x2="102.10" y2="86.60" stroke="rgba(0,0,0,0.62)" stroke-width="1.21" />
<line x1="108.75" y1="76.60" x2="108.75" y2="86.60" stroke="rgba(0,0,0,0.64)" stroke-width="0.88" />
<line x1="115.73" y1="76.60" x2="115.73" y2="86.60" stroke="rgba(0,0,0,0.66)" stroke-width="1.33" />
<line x1="103.33" y1="76.60" x2="103.33" y2="86.60" stroke="rgba(0,0,0,0.50)" stroke-width="1.35" />
<line x1="136.60" y1="76.60" x2="136.60" y2="86.60" stroke="rgba(255,255,255,0.89)" stroke-width="0.66" />
<line x1="139.76" y1="76.60" x2="139.76" y2="86.60" stroke="rgba(255,255,255,0.87)" stroke-width="0.53" />
<line x1="130.55" y1="76.60" x2="130.55" y2="86.60" stroke="rgba(255,255,255,0.83)" stroke-width="0.80" />
<line x1="120.36" y1="76.60" x2="120.36" y2="86.60" stroke="rgba(255,255,255,0.62)" stroke-width="0.60" />
<line x1="107.24" y1="76.60" x2="107.24" y2="86.60" stroke="rgba(255,255,255,0.53)" stroke-width="0.75" />
<line x1="109.92" y1="76.60" x2="109.92" y2="86.60" stroke="rgba(255,255,255,0.82)" stroke-width="0.43" />
<line x1="137.66" y1="76.60" x2="137.66" y2="86.60" stroke="rgba(255,255,255,0.78)" stroke-width="0.95" />
<line x1="137.35" y1="76.60" x2="137.35" y2="86.60" stroke="rgba(255,255,255,0.86)" stroke-width="0.75" />
<line x1="97.59" y1="76.60" x2="97.59" y2="86.60" stroke="rgba(255,255,255,0.80)" stroke-width="0.50" />
<line x1="110.49" y1="76.60" x2="110.49" y2="86.60" stroke="rgba(255,255,255,0.77)" stroke-width="0.71" />
<line x1="115.62" y1="76.60" x2="115.62" y2="86.60" stroke="rgba(255,255,255,0.88)" stroke-width="0.77" />
<line x1="112.36" y1="76.60" x2="112.36" y2="86.60" stroke="rgba(255,255,255,0.60)" stroke-width="0.92" />
<line x1="118.47" y1="76.60" x2="118.47" y2="86.60" stroke="rgba(255,255,255,0.81)" stroke-width="0.61" />
<line x1="105.88" y1="76.60" x2="105.88" y2="86.60" stroke="rgba(255,255,255,0.71)" stroke-width="0.89" />
<rect x="63.40" y="87.50" width="18.60" height="2.20" fill="#cc2c30" />
<rect x="82.00" y="87.50" width="19.50" height="2.20" fill="#d6444c" />
<rect x="101.50" y="87.50" width="7.50" height="2.20" fill="#df8a9c" />
<rect x="109.00" y="87.50" width="8.00" height="2.20" fill="#e2b7d6" />
<rect x="117.00" y="87.50" width="5.50" height="2.20" fill="#d6d3f0" />
<rect x="122.50" y="87.50" width="5.50" height="2.20" fill="#c3c3ea" />
<rect x="128.00" y="87.50" width="5.00" height="2.20" fill="#7676c4" />
<rect x="133.00" y="87.50" width="4.00" height="2.20" fill="#4a4aa4" />
<rect x="137.00" y="87.50" width="6.00" height="2.20" fill="#262688" />
<rect x="137.20" y="87.50" width="5.80" height="3.90" fill="#22227e" />
<path d="M63.20,100.50 L63.20,96.50 L67.72,97.20 L72.23,97.82 L76.75,98.38 L81.27,98.86 L85.78,99.28 L90.30,99.63 L94.82,99.92 L99.33,100.14 L103.85,100.31 L108.37,100.42 L112.88,100.48 L117.40,100.50 L119.35,100.72 L121.30,100.92 L123.25,101.12 L125.20,101.31 L127.15,101.50 L129.10,101.69 L131.05,101.88 L133.00,102.06 L134.95,102.25 L136.90,102.43 L138.85,102.62 L140.80,102.80 L143.30,110.50 L143.30,100.50 Z" fill="#c4c4c4" stroke="none"/>
<line x1="63.30" y1="100.80" x2="146.20" y2="100.80" stroke="#9a9a9a" stroke-width="0.5" />
<rect x="62.60" y="43.00" width="84.30" height="69.40" fill="none" stroke="#161616" stroke-width="1.4"/>
<polyline points="62.90,74.60 63.80,71.50 65.20,66.00 66.50,63.00 67.80,60.80 70.00,57.50 72.10,53.80 74.50,50.00 77.30,46.00 79.00,44.80 80.50,45.20 81.60,45.70 82.80,44.60 84.20,43.80 87.00,43.60 89.40,43.80 92.00,44.40 94.60,45.20 99.00,47.60 103.30,50.40 112.00,55.20 120.60,59.90 131.00,66.60 142.40,74.00" fill="none" stroke="#72bf3a" stroke-width="1.3" stroke-linejoin="round"/>
<line x1="59.20" y1="43.10" x2="62.60" y2="43.10" stroke="#1a1a1a" stroke-width="1.0" />
<text x="56.80" y="44.65" font-size="4.3" text-anchor="end" fill="#333" textLength="6.60" lengthAdjust="spacingAndGlyphs">0.6</text>
<line x1="59.20" y1="48.35" x2="62.60" y2="48.35" stroke="#1a1a1a" stroke-width="1.0" />
<text x="56.80" y="49.90" font-size="4.3" text-anchor="end" fill="#333" textLength="6.60" lengthAdjust="spacingAndGlyphs">0.5</text>
<line x1="59.20" y1="53.60" x2="62.60" y2="53.60" stroke="#1a1a1a" stroke-width="1.0" />
<text x="56.80" y="55.15" font-size="4.3" text-anchor="end" fill="#333" textLength="6.60" lengthAdjust="spacingAndGlyphs">0.4</text>
<line x1="59.20" y1="58.85" x2="62.60" y2="58.85" stroke="#1a1a1a" stroke-width="1.0" />
<text x="56.80" y="60.40" font-size="4.3" text-anchor="end" fill="#333" textLength="6.60" lengthAdjust="spacingAndGlyphs">0.3</text>
<line x1="59.20" y1="64.10" x2="62.60" y2="64.10" stroke="#1a1a1a" stroke-width="1.0" />
<text x="56.80" y="65.65" font-size="4.3" text-anchor="end" fill="#333" textLength="6.60" lengthAdjust="spacingAndGlyphs">0.2</text>
<line x1="59.20" y1="69.35" x2="62.60" y2="69.35" stroke="#1a1a1a" stroke-width="1.0" />
<text x="56.80" y="70.90" font-size="4.3" text-anchor="end" fill="#333" textLength="6.60" lengthAdjust="spacingAndGlyphs">0.1</text>
<line x1="59.20" y1="74.60" x2="62.60" y2="74.60" stroke="#1a1a1a" stroke-width="1.0" />
<text x="56.80" y="76.15" font-size="4.3" text-anchor="end" fill="#333" textLength="6.60" lengthAdjust="spacingAndGlyphs">0.0</text>
<text x="59.60" y="90.80" font-size="3.6" text-anchor="middle" fill="#474747" textLength="2.40" lengthAdjust="spacingAndGlyphs" transform="rotate(-90 59.60 90.80)">4</text>
<text x="59.60" y="95.40" font-size="3.6" text-anchor="middle" fill="#474747" textLength="2.40" lengthAdjust="spacingAndGlyphs" transform="rotate(-90 59.60 95.40)">2</text>
<text x="59.60" y="100.00" font-size="3.6" text-anchor="middle" fill="#474747" textLength="2.40" lengthAdjust="spacingAndGlyphs" transform="rotate(-90 59.60 100.00)">0</text>
<text x="59.60" y="105.40" font-size="3.6" text-anchor="middle" fill="#474747" textLength="4.00" lengthAdjust="spacingAndGlyphs" transform="rotate(-90 59.60 105.40)">-2</text>
<text x="59.60" y="110.40" font-size="3.6" text-anchor="middle" fill="#474747" textLength="4.00" lengthAdjust="spacingAndGlyphs" transform="rotate(-90 59.60 110.40)">-4</text>
<line x1="62.70" y1="112.40" x2="62.70" y2="114.60" stroke="#222" stroke-width="0.9" />
<text x="62.70" y="122.67" font-size="5.2" text-anchor="middle" fill="#474747" textLength="2.80" lengthAdjust="spacingAndGlyphs">0</text>
<line x1="82.48" y1="112.40" x2="82.48" y2="114.60" stroke="#222" stroke-width="0.9" />
<text x="82.48" y="122.67" font-size="5.2" text-anchor="middle" fill="#474747" textLength="10.60" lengthAdjust="spacingAndGlyphs">5,000</text>
<line x1="102.25" y1="112.40" x2="102.25" y2="114.60" stroke="#222" stroke-width="0.9" />
<text x="102.25" y="122.67" font-size="5.2" text-anchor="middle" fill="#474747" textLength="12.50" lengthAdjust="spacingAndGlyphs">10,000</text>
<line x1="122.03" y1="112.40" x2="122.03" y2="114.60" stroke="#222" stroke-width="0.9" />
<text x="122.03" y="122.67" font-size="5.2" text-anchor="middle" fill="#474747" textLength="12.50" lengthAdjust="spacingAndGlyphs">15,000</text>
<line x1="141.80" y1="112.40" x2="141.80" y2="114.60" stroke="#222" stroke-width="0.9" />
<text x="141.80" y="122.67" font-size="5.2" text-anchor="middle" fill="#474747" textLength="12.00" lengthAdjust="spacingAndGlyphs">20,000</text>
<text x="78.40" y="131.72" font-size="7.0" fill="#333" textLength="53.10" lengthAdjust="spacingAndGlyphs" stroke="#333" stroke-width="0.126">Rank in ordered dataset</text>
<line x1="34.20" y1="139.20" x2="36.80" y2="139.20" stroke="#72bf3a" stroke-width="1.0" />
<text x="40.00" y="141.22" font-size="5.6" fill="#474747" textLength="35.00" lengthAdjust="spacingAndGlyphs">Enrichment profile</text>
<line x1="78.70" y1="139.20" x2="80.50" y2="139.20" stroke="#777" stroke-width="0.8" />
<text x="84.20" y="141.22" font-size="5.6" fill="#474747" textLength="7.00" lengthAdjust="spacingAndGlyphs">Hits</text>
<line x1="95.00" y1="139.20" x2="101.20" y2="139.20" stroke="#bbb" stroke-width="0.8" />
<text x="105.00" y="141.22" font-size="5.6" fill="#474747" textLength="42.50" lengthAdjust="spacingAndGlyphs">Ranking metric scores</text>
<text x="104.70" y="23.84" font-size="5.4" text-anchor="middle" fill="#3a3a3a" textLength="31.10" lengthAdjust="spacingAndGlyphs">Enrichment plot:</text>
<text x="104.70" y="29.04" font-size="5.4" text-anchor="middle" fill="#3a3a3a" textLength="75.80" lengthAdjust="spacingAndGlyphs">REACTOME_ANTIGEN_PROCESSING_</text>
<text x="104.70" y="34.24" font-size="5.4" text-anchor="middle" fill="#3a3a3a" textLength="68.00" lengthAdjust="spacingAndGlyphs">UBIQUITINATION_PROTEASOME_</text>
<text x="104.70" y="39.04" font-size="5.4" text-anchor="middle" fill="#3a3a3a" textLength="30.30" lengthAdjust="spacingAndGlyphs">DEGRADATION</text>
<text x="121.90" y="50.67" font-size="5.2" fill="#333" textLength="15.00" lengthAdjust="spacingAndGlyphs">FDR 0.1</text>
<text x="121.90" y="55.67" font-size="5.2" fill="#333" textLength="16.20" lengthAdjust="spacingAndGlyphs"><tspan font-style="italic">P</tspan> &lt;0.001</text>
<text x="38.68" y="58.65" font-size="6.6" text-anchor="middle" fill="#3d3d3d" textLength="25.70" lengthAdjust="spacingAndGlyphs" transform="rotate(-90 38.68 58.65)">Enrichment</text>
<text x="46.88" y="58.45" font-size="6.6" text-anchor="middle" fill="#3d3d3d" textLength="21.50" lengthAdjust="spacingAndGlyphs" transform="rotate(-90 46.88 58.45)">score (ES)</text>
<text x="35.98" y="100.40" font-size="6.6" text-anchor="middle" fill="#3d3d3d" textLength="25.40" lengthAdjust="spacingAndGlyphs" transform="rotate(-90 35.98 100.40)">Ranked list</text>
<text x="44.38" y="100.60" font-size="6.6" text-anchor="middle" fill="#3d3d3d" textLength="14.20" lengthAdjust="spacingAndGlyphs" transform="rotate(-90 44.38 100.60)">metric</text>
<text x="51.38" y="100.75" font-size="6.6" text-anchor="middle" fill="#3d3d3d" textLength="33.90" lengthAdjust="spacingAndGlyphs" transform="rotate(-90 51.38 100.75)">(signal2Noise)</text>
<text x="66.25" y="93.94" font-size="4.0" fill="#cf2e2e" textLength="19.25" lengthAdjust="spacingAndGlyphs">NSC12 (5μM)</text>
<text x="66.25" y="97.54" font-size="4.0" fill="#cf2e2e" textLength="30.75" lengthAdjust="spacingAndGlyphs">(positively correlated)</text>
<text x="102.20" y="103.54" font-size="4.0" fill="#222" textLength="28.40" lengthAdjust="spacingAndGlyphs">Zero cross at 13736</text>
<text x="107.50" y="108.04" font-size="4.0" fill="#4b40b0" textLength="19.20" lengthAdjust="spacingAndGlyphs">NSC12 (5μM)</text>
<text x="107.50" y="111.44" font-size="4.0" fill="#4b40b0" textLength="31.90" lengthAdjust="spacingAndGlyphs">(negatively correlated)</text>
<line x1="230.38" y1="44.40" x2="230.38" y2="76.80" stroke="#ececec" stroke-width="0.6" />
<line x1="230.38" y1="90.20" x2="230.38" y2="112.50" stroke="#ececec" stroke-width="0.6" />
<line x1="250.25" y1="44.40" x2="250.25" y2="76.80" stroke="#ececec" stroke-width="0.6" />
<line x1="250.25" y1="90.20" x2="250.25" y2="112.50" stroke="#ececec" stroke-width="0.6" />
<line x1="270.12" y1="44.40" x2="270.12" y2="76.80" stroke="#ececec" stroke-width="0.6" />
<line x1="270.12" y1="90.20" x2="270.12" y2="112.50" stroke="#ececec" stroke-width="0.6" />
<line x1="290.00" y1="44.40" x2="290.00" y2="76.80" stroke="#ececec" stroke-width="0.6" />
<line x1="290.00" y1="90.20" x2="290.00" y2="112.50" stroke="#ececec" stroke-width="0.6" />
<line x1="210.50" y1="47.80" x2="295.40" y2="47.80" stroke="#efefef" stroke-width="0.6" />
<line x1="210.50" y1="54.40" x2="295.40" y2="54.40" stroke="#efefef" stroke-width="0.6" />
<line x1="210.50" y1="61.00" x2="295.40" y2="61.00" stroke="#efefef" stroke-width="0.6" />
<line x1="210.50" y1="67.60" x2="295.40" y2="67.60" stroke="#efefef" stroke-width="0.6" />
<line x1="210.50" y1="74.20" x2="295.40" y2="74.20" stroke="#d8d8d8" stroke-width="1.0" />
<rect x="211.00" y="76.80" width="42.00" height="10.80" fill="rgba(0,0,0,0.66)" />
<line x1="220.91" y1="76.80" x2="220.91" y2="87.60" stroke="rgba(0,0,0,0.54)" stroke-width="0.86" />
<line x1="217.51" y1="76.80" x2="217.51" y2="87.60" stroke="rgba(0,0,0,0.53)" stroke-width="0.86" />
<line x1="249.55" y1="76.80" x2="249.55" y2="87.60" stroke="rgba(0,0,0,0.82)" stroke-width="1.19" />
<line x1="220.32" y1="76.80" x2="220.32" y2="87.60" stroke="rgba(0,0,0,0.71)" stroke-width="0.75" />
<line x1="218.25" y1="76.80" x2="218.25" y2="87.60" stroke="rgba(0,0,0,0.54)" stroke-width="0.69" />
<line x1="249.95" y1="76.80" x2="249.95" y2="87.60" stroke="rgba(0,0,0,0.83)" stroke-width="1.23" />
<line x1="244.62" y1="76.80" x2="244.62" y2="87.60" stroke="rgba(0,0,0,0.58)" stroke-width="0.78" />
<line x1="237.33" y1="76.80" x2="237.33" y2="87.60" stroke="rgba(0,0,0,0.79)" stroke-width="1.27" />
<line x1="247.96" y1="76.80" x2="247.96" y2="87.60" stroke="rgba(0,0,0,0.53)" stroke-width="1.05" />
<line x1="239.21" y1="76.80" x2="239.21" y2="87.60" stroke="rgba(0,0,0,0.70)" stroke-width="0.66" />
<line x1="230.89" y1="76.80" x2="230.89" y2="87.60" stroke="rgba(0,0,0,0.54)" stroke-width="1.34" />
<line x1="247.35" y1="76.80" x2="247.35" y2="87.60" stroke="rgba(0,0,0,0.72)" stroke-width="0.77" />
<line x1="249.17" y1="76.80" x2="249.17" y2="87.60" stroke="rgba(0,0,0,0.73)" stroke-width="1.29" />
<line x1="246.62" y1="76.80" x2="246.62" y2="87.60" stroke="rgba(0,0,0,0.70)" stroke-width="0.87" />
<line x1="236.15" y1="76.80" x2="236.15" y2="87.60" stroke="rgba(0,0,0,0.67)" stroke-width="0.65" />
<line x1="223.81" y1="76.80" x2="223.81" y2="87.60" stroke="rgba(0,0,0,0.83)" stroke-width="0.54" />
<line x1="212.95" y1="76.80" x2="212.95" y2="87.60" stroke="rgba(0,0,0,0.75)" stroke-width="0.75" />
<line x1="233.45" y1="76.80" x2="233.45" y2="87.60" stroke="rgba(0,0,0,0.69)" stroke-width="0.81" />
<line x1="252.89" y1="76.80" x2="252.89" y2="87.60" stroke="rgba(0,0,0,0.58)" stroke-width="0.87" />
<line x1="219.51" y1="76.80" x2="219.51" y2="87.60" stroke="rgba(0,0,0,0.75)" stroke-width="0.75" />
<line x1="225.94" y1="76.80" x2="225.94" y2="87.60" stroke="rgba(0,0,0,0.80)" stroke-width="0.79" />
<line x1="234.46" y1="76.80" x2="234.46" y2="87.60" stroke="rgba(0,0,0,0.86)" stroke-width="0.59" />
<line x1="214.46" y1="76.80" x2="214.46" y2="87.60" stroke="rgba(255,255,255,0.59)" stroke-width="0.86" />
<line x1="236.62" y1="76.80" x2="236.62" y2="87.60" stroke="rgba(255,255,255,0.59)" stroke-width="0.60" />
<line x1="219.10" y1="76.80" x2="219.10" y2="87.60" stroke="rgba(255,255,255,0.68)" stroke-width="0.43" />
<line x1="239.89" y1="76.80" x2="239.89" y2="87.60" stroke="rgba(255,255,255,0.86)" stroke-width="0.97" />
<line x1="241.40" y1="76.80" x2="241.40" y2="87.60" stroke="rgba(255,255,255,0.88)" stroke-width="0.41" />
<line x1="223.56" y1="76.80" x2="223.56" y2="87.60" stroke="rgba(255,255,255,0.89)" stroke-width="0.87" />
<line x1="228.42" y1="76.80" x2="228.42" y2="87.60" stroke="rgba(255,255,255,0.88)" stroke-width="0.77" />
<line x1="244.72" y1="76.80" x2="244.72" y2="87.60" stroke="rgba(255,255,255,0.62)" stroke-width="0.51" />
<rect x="253.00" y="76.80" width="37.00" height="10.80" fill="rgba(0,0,0,0.36)" />
<line x1="269.43" y1="76.80" x2="269.43" y2="87.60" stroke="rgba(0,0,0,0.55)" stroke-width="0.84" />
<line x1="288.59" y1="76.80" x2="288.59" y2="87.60" stroke="rgba(0,0,0,0.63)" stroke-width="0.51" />
<line x1="254.66" y1="76.80" x2="254.66" y2="87.60" stroke="rgba(0,0,0,0.57)" stroke-width="1.21" />
<line x1="266.42" y1="76.80" x2="266.42" y2="87.60" stroke="rgba(0,0,0,0.62)" stroke-width="0.59" />
<line x1="289.32" y1="76.80" x2="289.32" y2="87.60" stroke="rgba(0,0,0,0.67)" stroke-width="0.69" />
<line x1="255.20" y1="76.80" x2="255.20" y2="87.60" stroke="rgba(0,0,0,0.52)" stroke-width="0.65" />
<line x1="278.04" y1="76.80" x2="278.04" y2="87.60" stroke="rgba(0,0,0,0.56)" stroke-width="0.54" />
<line x1="271.15" y1="76.80" x2="271.15" y2="87.60" stroke="rgba(0,0,0,0.60)" stroke-width="1.40" />
<line x1="257.52" y1="76.80" x2="257.52" y2="87.60" stroke="rgba(0,0,0,0.71)" stroke-width="1.20" />
<line x1="268.14" y1="76.80" x2="268.14" y2="87.60" stroke="rgba(0,0,0,0.90)" stroke-width="0.93" />
<line x1="261.95" y1="76.80" x2="261.95" y2="87.60" stroke="rgba(0,0,0,0.66)" stroke-width="0.53" />
<line x1="268.59" y1="76.80" x2="268.59" y2="87.60" stroke="rgba(0,0,0,0.60)" stroke-width="1.30" />
<line x1="283.75" y1="76.80" x2="283.75" y2="87.60" stroke="rgba(0,0,0,0.70)" stroke-width="0.53" />
<line x1="262.41" y1="76.80" x2="262.41" y2="87.60" stroke="rgba(0,0,0,0.60)" stroke-width="0.69" />
<line x1="261.56" y1="76.80" x2="261.56" y2="87.60" stroke="rgba(0,0,0,0.85)" stroke-width="0.63" />
<line x1="254.90" y1="76.80" x2="254.90" y2="87.60" stroke="rgba(0,0,0,0.87)" stroke-width="1.01" />
<line x1="288.67" y1="76.80" x2="288.67" y2="87.60" stroke="rgba(255,255,255,0.66)" stroke-width="0.94" />
<line x1="276.89" y1="76.80" x2="276.89" y2="87.60" stroke="rgba(255,255,255,0.82)" stroke-width="0.85" />
<line x1="271.30" y1="76.80" x2="271.30" y2="87.60" stroke="rgba(255,255,255,0.54)" stroke-width="0.53" />
<line x1="284.58" y1="76.80" x2="284.58" y2="87.60" stroke="rgba(255,255,255,0.86)" stroke-width="0.95" />
<line x1="265.78" y1="76.80" x2="265.78" y2="87.60" stroke="rgba(255,255,255,0.76)" stroke-width="0.88" />
<line x1="276.49" y1="76.80" x2="276.49" y2="87.60" stroke="rgba(255,255,255,0.83)" stroke-width="0.72" />
<line x1="276.92" y1="76.80" x2="276.92" y2="87.60" stroke="rgba(255,255,255,0.77)" stroke-width="0.56" />
<line x1="286.30" y1="76.80" x2="286.30" y2="87.60" stroke="rgba(255,255,255,0.88)" stroke-width="0.44" />
<line x1="287.99" y1="76.80" x2="287.99" y2="87.60" stroke="rgba(255,255,255,0.88)" stroke-width="0.80" />
<line x1="255.56" y1="76.80" x2="255.56" y2="87.60" stroke="rgba(255,255,255,0.86)" stroke-width="0.48" />
<line x1="287.90" y1="76.80" x2="287.90" y2="87.60" stroke="rgba(255,255,255,0.77)" stroke-width="0.44" />
<line x1="259.85" y1="76.80" x2="259.85" y2="87.60" stroke="rgba(255,255,255,0.75)" stroke-width="0.74" />
<rect x="211.30" y="88.00" width="16.70" height="2.20" fill="#cc2c30" />
<rect x="228.00" y="88.00" width="17.20" height="2.20" fill="#d6444c" />
<rect x="245.20" y="88.00" width="6.80" height="2.20" fill="#df8a9c" />
<rect x="252.00" y="88.00" width="7.00" height="2.20" fill="#e0b3d6" />
<rect x="259.00" y="88.00" width="8.00" height="2.20" fill="#d6d3f0" />
<rect x="267.00" y="88.00" width="7.50" height="2.20" fill="#c3c3ea" />
<rect x="274.50" y="88.00" width="6.50" height="2.20" fill="#7676c4" />
<rect x="281.00" y="88.00" width="5.00" height="2.20" fill="#4a4aa4" />
<rect x="286.00" y="88.00" width="5.00" height="2.20" fill="#262688" />
<rect x="285.00" y="88.00" width="6.00" height="2.90" fill="#22227e" />
<path d="M211.10,102.00 L211.10,97.80 L215.06,98.53 L219.02,99.19 L222.97,99.77 L226.93,100.28 L230.89,100.72 L234.85,101.09 L238.81,101.39 L242.77,101.63 L246.73,101.80 L250.68,101.92 L254.64,101.98 L258.60,102.00 L261.12,102.21 L263.63,102.40 L266.15,102.59 L268.67,102.77 L271.18,102.96 L273.70,103.14 L276.22,103.32 L278.73,103.50 L281.25,103.67 L283.77,103.85 L286.28,104.03 L288.80,104.20 L291.30,110.80 L291.30,102.00 Z" fill="#c4c4c4" stroke="none"/>
<line x1="211.20" y1="101.40" x2="294.70" y2="101.40" stroke="#9a9a9a" stroke-width="0.5" />
<rect x="210.50" y="43.40" width="84.90" height="69.10" fill="none" stroke="#161616" stroke-width="1.4"/>
<polyline points="210.90,73.80 212.00,69.00 213.20,65.60 214.50,61.50 216.00,58.30 218.50,55.20 221.50,52.80 224.00,51.00 226.90,49.10 229.00,47.00 231.50,45.10 234.20,44.60 236.00,44.70 237.90,45.10 242.00,46.20 247.00,48.20 253.00,51.80 259.80,56.50 265.00,60.80 270.80,65.60 275.00,69.20 280.00,72.90 282.70,73.80 284.00,73.20 285.40,73.30 287.00,74.20 288.20,74.40 290.00,73.80 291.80,74.70" fill="none" stroke="#72bf3a" stroke-width="1.3" stroke-linejoin="round"/>
<line x1="207.10" y1="47.80" x2="210.50" y2="47.80" stroke="#1a1a1a" stroke-width="1.0" />
<text x="204.20" y="49.35" font-size="4.3" text-anchor="end" fill="#333" textLength="6.20" lengthAdjust="spacingAndGlyphs">0.4</text>
<line x1="207.10" y1="54.40" x2="210.50" y2="54.40" stroke="#1a1a1a" stroke-width="1.0" />
<text x="204.20" y="55.95" font-size="4.3" text-anchor="end" fill="#333" textLength="6.20" lengthAdjust="spacingAndGlyphs">0.3</text>
<line x1="207.10" y1="61.00" x2="210.50" y2="61.00" stroke="#1a1a1a" stroke-width="1.0" />
<text x="204.20" y="62.55" font-size="4.3" text-anchor="end" fill="#333" textLength="6.20" lengthAdjust="spacingAndGlyphs">0.2</text>
<line x1="207.10" y1="67.60" x2="210.50" y2="67.60" stroke="#1a1a1a" stroke-width="1.0" />
<text x="204.20" y="69.15" font-size="4.3" text-anchor="end" fill="#333" textLength="6.20" lengthAdjust="spacingAndGlyphs">0.1</text>
<line x1="207.10" y1="74.20" x2="210.50" y2="74.20" stroke="#1a1a1a" stroke-width="1.0" />
<text x="204.20" y="75.75" font-size="4.3" text-anchor="end" fill="#333" textLength="6.20" lengthAdjust="spacingAndGlyphs">0.0</text>
<text x="207.30" y="93.40" font-size="3.6" text-anchor="middle" fill="#474747" textLength="2.40" lengthAdjust="spacingAndGlyphs" transform="rotate(-90 207.30 93.40)">4</text>
<text x="207.30" y="97.40" font-size="3.6" text-anchor="middle" fill="#474747" textLength="2.40" lengthAdjust="spacingAndGlyphs" transform="rotate(-90 207.30 97.40)">2</text>
<text x="207.30" y="101.50" font-size="3.6" text-anchor="middle" fill="#474747" textLength="2.40" lengthAdjust="spacingAndGlyphs" transform="rotate(-90 207.30 101.50)">0</text>
<text x="207.30" y="105.50" font-size="3.6" text-anchor="middle" fill="#474747" textLength="4.00" lengthAdjust="spacingAndGlyphs" transform="rotate(-90 207.30 105.50)">-2</text>
<text x="207.30" y="111.00" font-size="3.6" text-anchor="middle" fill="#474747" textLength="4.00" lengthAdjust="spacingAndGlyphs" transform="rotate(-90 207.30 111.00)">-4</text>
<line x1="210.50" y1="112.50" x2="210.50" y2="114.70" stroke="#222" stroke-width="0.9" />
<text x="210.50" y="122.67" font-size="5.2" text-anchor="middle" fill="#474747" textLength="2.80" lengthAdjust="spacingAndGlyphs">0</text>
<line x1="230.38" y1="112.50" x2="230.38" y2="114.70" stroke="#222" stroke-width="0.9" />
<text x="230.38" y="122.67" font-size="5.2" text-anchor="middle" fill="#474747" textLength="10.60" lengthAdjust="spacingAndGlyphs">5,000</text>
<line x1="250.25" y1="112.50" x2="250.25" y2="114.70" stroke="#222" stroke-width="0.9" />
<text x="250.25" y="122.67" font-size="5.2" text-anchor="middle" fill="#474747" textLength="12.50" lengthAdjust="spacingAndGlyphs">10,000</text>
<line x1="270.12" y1="112.50" x2="270.12" y2="114.70" stroke="#222" stroke-width="0.9" />
<text x="270.12" y="122.67" font-size="5.2" text-anchor="middle" fill="#474747" textLength="12.50" lengthAdjust="spacingAndGlyphs">15,000</text>
<line x1="290.00" y1="112.50" x2="290.00" y2="114.70" stroke="#222" stroke-width="0.9" />
<text x="290.00" y="122.67" font-size="5.2" text-anchor="middle" fill="#474747" textLength="12.00" lengthAdjust="spacingAndGlyphs">20,000</text>
<text x="226.20" y="131.42" font-size="7.0" fill="#333" textLength="53.10" lengthAdjust="spacingAndGlyphs" stroke="#333" stroke-width="0.126">Rank in ordered dataset</text>
<line x1="187.50" y1="139.20" x2="190.00" y2="139.20" stroke="#72bf3a" stroke-width="1.0" />
<text x="193.00" y="141.22" font-size="5.6" fill="#474747" textLength="35.20" lengthAdjust="spacingAndGlyphs">Enrichment profile</text>
<line x1="232.00" y1="139.20" x2="233.80" y2="139.20" stroke="#777" stroke-width="0.8" />
<text x="237.50" y="141.22" font-size="5.6" fill="#474747" textLength="7.00" lengthAdjust="spacingAndGlyphs">Hits</text>
<line x1="248.20" y1="139.20" x2="253.80" y2="139.20" stroke="#bbb" stroke-width="0.8" />
<text x="258.20" y="141.22" font-size="5.6" fill="#474747" textLength="41.80" lengthAdjust="spacingAndGlyphs">Ranking metric scores</text>
<text x="253.00" y="25.14" font-size="5.4" text-anchor="middle" fill="#3a3a3a" textLength="31.10" lengthAdjust="spacingAndGlyphs">Enrichment plot:</text>
<text x="253.00" y="30.14" font-size="5.4" text-anchor="middle" fill="#3a3a3a" textLength="76.00" lengthAdjust="spacingAndGlyphs">REACTOME_ANTIGEN_PROCESSING_</text>
<text x="253.00" y="35.24" font-size="5.4" text-anchor="middle" fill="#3a3a3a" textLength="67.10" lengthAdjust="spacingAndGlyphs">UBIQUITINATION_PROTEASOME_</text>
<text x="253.00" y="40.34" font-size="5.4" text-anchor="middle" fill="#3a3a3a" textLength="30.50" lengthAdjust="spacingAndGlyphs">DEGRADATION</text>
<text x="266.20" y="51.07" font-size="5.2" fill="#333" textLength="19.20" lengthAdjust="spacingAndGlyphs">FDR &lt;0.01</text>
<text x="266.20" y="55.97" font-size="5.2" fill="#333" textLength="16.50" lengthAdjust="spacingAndGlyphs"><tspan font-style="italic">P</tspan> &lt;0.001</text>
<text x="187.08" y="58.65" font-size="6.6" text-anchor="middle" fill="#3d3d3d" textLength="25.70" lengthAdjust="spacingAndGlyphs" transform="rotate(-90 187.08 58.65)">Enrichment</text>
<text x="195.28" y="58.45" font-size="6.6" text-anchor="middle" fill="#3d3d3d" textLength="21.50" lengthAdjust="spacingAndGlyphs" transform="rotate(-90 195.28 58.45)">score (ES)</text>
<text x="184.38" y="100.40" font-size="6.6" text-anchor="middle" fill="#3d3d3d" textLength="25.40" lengthAdjust="spacingAndGlyphs" transform="rotate(-90 184.38 100.40)">Ranked list</text>
<text x="192.78" y="100.60" font-size="6.6" text-anchor="middle" fill="#3d3d3d" textLength="14.20" lengthAdjust="spacingAndGlyphs" transform="rotate(-90 192.78 100.60)">metric</text>
<text x="199.78" y="100.75" font-size="6.6" text-anchor="middle" fill="#3d3d3d" textLength="33.90" lengthAdjust="spacingAndGlyphs" transform="rotate(-90 199.78 100.75)">(signal2Noise)</text>
<text x="213.80" y="94.44" font-size="4.0" fill="#cf2e2e" textLength="19.20" lengthAdjust="spacingAndGlyphs">NSC12 (5μM)</text>
<text x="213.80" y="98.24" font-size="4.0" fill="#cf2e2e" textLength="31.00" lengthAdjust="spacingAndGlyphs">(positively correlated)</text>
<text x="246.30" y="102.44" font-size="4.0" fill="#222" textLength="28.60" lengthAdjust="spacingAndGlyphs">Zero cross at 12113</text>
<text x="255.30" y="107.74" font-size="4.0" fill="#4b40b0" textLength="19.60" lengthAdjust="spacingAndGlyphs">NSC12 (5μM)</text>
<text x="255.30" y="111.44" font-size="4.0" fill="#4b40b0" textLength="31.80" lengthAdjust="spacingAndGlyphs">(negatively correlated)</text>
<line x1="71.38" y1="211.90" x2="71.38" y2="244.60" stroke="#ececec" stroke-width="0.6" />
<line x1="71.38" y1="257.70" x2="71.38" y2="280.30" stroke="#ececec" stroke-width="0.6" />
<line x1="91.35" y1="211.90" x2="91.35" y2="244.60" stroke="#ececec" stroke-width="0.6" />
<line x1="91.35" y1="257.70" x2="91.35" y2="280.30" stroke="#ececec" stroke-width="0.6" />
<line x1="111.32" y1="211.90" x2="111.32" y2="244.60" stroke="#ececec" stroke-width="0.6" />
<line x1="111.32" y1="257.70" x2="111.32" y2="280.30" stroke="#ececec" stroke-width="0.6" />
<line x1="131.30" y1="211.90" x2="131.30" y2="244.60" stroke="#ececec" stroke-width="0.6" />
<line x1="131.30" y1="257.70" x2="131.30" y2="280.30" stroke="#ececec" stroke-width="0.6" />
<line x1="51.30" y1="215.90" x2="135.80" y2="215.90" stroke="#efefef" stroke-width="0.6" />
<line x1="51.30" y1="221.90" x2="135.80" y2="221.90" stroke="#efefef" stroke-width="0.6" />
<line x1="51.30" y1="233.90" x2="135.80" y2="233.90" stroke="#efefef" stroke-width="0.6" />
<line x1="51.30" y1="239.90" x2="135.80" y2="239.90" stroke="#efefef" stroke-width="0.6" />
<line x1="51.30" y1="227.90" x2="135.80" y2="227.90" stroke="#d8d8d8" stroke-width="1.0" />
<rect x="52.00" y="244.60" width="80.00" height="10.00" fill="rgba(0,0,0,0.13)" />
<line x1="53.70" y1="244.60" x2="53.70" y2="254.60" stroke="rgba(0,0,0,0.32)" stroke-width="2.00" />
<line x1="60.00" y1="244.60" x2="60.00" y2="254.60" stroke="rgba(0,0,0,0.33)" stroke-width="2.50" />
<line x1="64.20" y1="244.60" x2="64.20" y2="254.60" stroke="rgba(0,0,0,0.34)" stroke-width="1.70" />
<line x1="66.60" y1="244.60" x2="66.60" y2="254.60" stroke="rgba(0,0,0,0.57)" stroke-width="1.30" />
<line x1="70.30" y1="244.60" x2="70.30" y2="254.60" stroke="rgba(0,0,0,0.33)" stroke-width="1.70" />
<line x1="74.20" y1="244.60" x2="74.20" y2="254.60" stroke="rgba(0,0,0,0.35)" stroke-width="2.60" />
<line x1="78.70" y1="244.60" x2="78.70" y2="254.60" stroke="rgba(0,0,0,0.25)" stroke-width="2.10" />
<line x1="81.50" y1="244.60" x2="81.50" y2="254.60" stroke="rgba(0,0,0,0.30)" stroke-width="1.70" />
<line x1="84.60" y1="244.60" x2="84.60" y2="254.60" stroke="rgba(0,0,0,0.35)" stroke-width="1.80" />
<line x1="87.60" y1="244.60" x2="87.60" y2="254.60" stroke="rgba(0,0,0,0.32)" stroke-width="2.60" />
<line x1="92.40" y1="244.60" x2="92.40" y2="254.60" stroke="rgba(0,0,0,0.35)" stroke-width="1.80" />
<line x1="94.30" y1="244.60" x2="94.30" y2="254.60" stroke="rgba(0,0,0,0.42)" stroke-width="1.00" />
<line x1="98.60" y1="244.60" x2="98.60" y2="254.60" stroke="rgba(0,0,0,0.48)" stroke-width="1.00" />
<line x1="104.90" y1="244.60" x2="104.90" y2="254.60" stroke="rgba(0,0,0,0.28)" stroke-width="2.20" />
<line x1="109.00" y1="244.60" x2="109.00" y2="254.60" stroke="rgba(0,0,0,0.50)" stroke-width="1.00" />
<line x1="111.60" y1="244.60" x2="111.60" y2="254.60" stroke="rgba(0,0,0,0.50)" stroke-width="1.20" />
<line x1="115.50" y1="244.60" x2="115.50" y2="254.60" stroke="rgba(0,0,0,0.25)" stroke-width="2.60" />
<line x1="121.50" y1="244.60" x2="121.50" y2="254.60" stroke="rgba(0,0,0,0.44)" stroke-width="1.00" />
<line x1="124.60" y1="244.60" x2="124.60" y2="254.60" stroke="rgba(0,0,0,0.45)" stroke-width="1.00" />
<line x1="127.80" y1="244.60" x2="127.80" y2="254.60" stroke="rgba(0,0,0,0.35)" stroke-width="3.00" />
<line x1="131.10" y1="244.60" x2="131.10" y2="254.60" stroke="rgba(0,0,0,0.54)" stroke-width="1.00" />
<rect x="52.10" y="255.30" width="8.50" height="2.40" fill="#cc2c30" />
<rect x="60.60" y="255.30" width="9.30" height="2.40" fill="#d9545c" />
<rect x="69.90" y="255.30" width="6.90" height="2.40" fill="#e3a3c4" />
<rect x="76.80" y="255.30" width="12.00" height="2.40" fill="#d6d3f0" />
<rect x="88.80" y="255.30" width="12.00" height="2.40" fill="#c3c3ea" />
<rect x="100.80" y="255.30" width="7.20" height="2.40" fill="#7676c4" />
<rect x="108.00" y="255.30" width="11.75" height="2.40" fill="#3c3c9c" />
<rect x="119.75" y="255.30" width="11.75" height="2.40" fill="#262688" />
<path d="M51.90,267.90 L51.90,264.90 L55.63,265.42 L59.37,265.89 L63.10,266.31 L66.83,266.67 L70.57,266.98 L74.30,267.25 L78.03,267.46 L81.77,267.63 L85.50,267.76 L89.23,267.84 L92.97,267.89 L96.70,267.90 L99.46,268.47 L102.22,268.99 L104.98,269.51 L107.73,270.01 L110.49,270.51 L113.25,271.01 L116.01,271.50 L118.77,271.98 L121.53,272.47 L124.28,272.95 L127.04,273.42 L129.80,273.90 L132.30,277.70 L132.30,267.90 Z" fill="#c4c4c4" stroke="none"/>
<line x1="52.00" y1="267.90" x2="135.10" y2="267.90" stroke="#9a9a9a" stroke-width="0.5" />
<rect x="51.30" y="210.90" width="84.50" height="69.40" fill="none" stroke="#161616" stroke-width="1.4"/>
<polyline points="51.80,221.50 52.50,216.00 52.80,213.90 54.30,212.40 55.40,213.20 56.40,213.50 58.00,213.80 59.60,214.50 61.70,213.90 63.80,215.60 68.00,218.20 72.30,220.90 78.00,225.50 85.00,230.40 89.00,231.80 93.50,233.60 99.00,237.50 104.00,241.00 107.00,241.20 110.40,242.00 112.00,240.50 113.60,239.90 115.00,239.30 116.70,238.80 118.50,240.20 119.90,241.00 121.00,238.50 122.00,236.70 123.00,237.60 124.10,237.80 125.20,235.50 126.30,233.60 127.50,231.50 128.40,230.40 129.50,229.50 130.50,228.30 131.20,228.60 132.00,227.20" fill="none" stroke="#72bf3a" stroke-width="1.3" stroke-linejoin="round"/>
<line x1="48.30" y1="215.90" x2="51.30" y2="215.90" stroke="#1a1a1a" stroke-width="1.0" />
<text x="45.30" y="217.52" font-size="4.5" text-anchor="end" fill="#333">0.2</text>
<line x1="48.30" y1="221.90" x2="51.30" y2="221.90" stroke="#1a1a1a" stroke-width="1.0" />
<text x="45.30" y="223.52" font-size="4.5" text-anchor="end" fill="#333">0.1</text>
<line x1="48.30" y1="227.90" x2="51.30" y2="227.90" stroke="#1a1a1a" stroke-width="1.0" />
<text x="45.30" y="229.52" font-size="4.5" text-anchor="end" fill="#333">0.0</text>
<line x1="48.30" y1="233.90" x2="51.30" y2="233.90" stroke="#1a1a1a" stroke-width="1.0" />
<text x="45.30" y="235.52" font-size="4.5" text-anchor="end" fill="#333">-0.1</text>
<line x1="48.30" y1="239.90" x2="51.30" y2="239.90" stroke="#1a1a1a" stroke-width="1.0" />
<text x="45.30" y="241.52" font-size="4.5" text-anchor="end" fill="#333">-0.2</text>
<text x="47.70" y="259.80" font-size="3.6" text-anchor="middle" fill="#474747" textLength="2.40" lengthAdjust="spacingAndGlyphs" transform="rotate(-90 47.70 259.80)">4</text>
<text x="47.70" y="263.80" font-size="3.6" text-anchor="middle" fill="#474747" textLength="2.40" lengthAdjust="spacingAndGlyphs" transform="rotate(-90 47.70 263.80)">2</text>
<text x="47.70" y="268.00" font-size="3.6" text-anchor="middle" fill="#474747" textLength="2.40" lengthAdjust="spacingAndGlyphs" transform="rotate(-90 47.70 268.00)">0</text>
<text x="47.70" y="272.80" font-size="3.6" text-anchor="middle" fill="#474747" textLength="4.00" lengthAdjust="spacingAndGlyphs" transform="rotate(-90 47.70 272.80)">-2</text>
<text x="47.70" y="278.80" font-size="3.6" text-anchor="middle" fill="#474747" textLength="4.00" lengthAdjust="spacingAndGlyphs" transform="rotate(-90 47.70 278.80)">-4</text>
<line x1="51.40" y1="280.30" x2="51.40" y2="282.50" stroke="#222" stroke-width="0.9" />
<text x="51.40" y="290.14" font-size="5.4" text-anchor="middle" fill="#474747" textLength="2.80" lengthAdjust="spacingAndGlyphs">0</text>
<line x1="71.38" y1="280.30" x2="71.38" y2="282.50" stroke="#222" stroke-width="0.9" />
<text x="71.38" y="290.14" font-size="5.4" text-anchor="middle" fill="#474747" textLength="11.00" lengthAdjust="spacingAndGlyphs">5,000</text>
<line x1="91.35" y1="280.30" x2="91.35" y2="282.50" stroke="#222" stroke-width="0.9" />
<text x="91.35" y="290.14" font-size="5.4" text-anchor="middle" fill="#474747" textLength="13.40" lengthAdjust="spacingAndGlyphs">10,000</text>
<line x1="111.32" y1="280.30" x2="111.32" y2="282.50" stroke="#222" stroke-width="0.9" />
<text x="111.32" y="290.14" font-size="5.4" text-anchor="middle" fill="#474747" textLength="13.20" lengthAdjust="spacingAndGlyphs">15,000</text>
<line x1="131.30" y1="280.30" x2="131.30" y2="282.50" stroke="#222" stroke-width="0.9" />
<text x="131.30" y="290.14" font-size="5.4" text-anchor="middle" fill="#474747" textLength="13.00" lengthAdjust="spacingAndGlyphs">20,000</text>
<text x="67.40" y="299.58" font-size="6.9" fill="#333" textLength="52.90" lengthAdjust="spacingAndGlyphs">Rank in ordered dataset</text>
<line x1="27.00" y1="305.80" x2="29.90" y2="305.80" stroke="#72bf3a" stroke-width="1.0" />
<text x="33.00" y="307.71" font-size="5.3" fill="#474747" textLength="34.90" lengthAdjust="spacingAndGlyphs">Enrichment profile</text>
<line x1="72.20" y1="305.80" x2="74.60" y2="305.80" stroke="#777" stroke-width="0.8" />
<text x="77.00" y="307.71" font-size="5.3" fill="#474747" textLength="7.70" lengthAdjust="spacingAndGlyphs">Hits</text>
<line x1="89.50" y1="305.80" x2="92.00" y2="305.80" stroke="#bbb" stroke-width="0.8" />
<text x="97.90" y="307.71" font-size="5.3" fill="#474747" textLength="42.10" lengthAdjust="spacingAndGlyphs">Ranking metric scores</text>
<text x="93.80" y="187.37" font-size="5.2" text-anchor="middle" fill="#3a3a3a" textLength="32.50" lengthAdjust="spacingAndGlyphs">Enrichment plot:</text>
<text x="93.80" y="192.77" font-size="5.2" text-anchor="middle" fill="#3a3a3a" textLength="57.50" lengthAdjust="spacingAndGlyphs">GO_INTRINSIC_APOPTOTIC_</text>
<text x="93.80" y="198.07" font-size="5.2" text-anchor="middle" fill="#3a3a3a" textLength="77.50" lengthAdjust="spacingAndGlyphs">SIGNALING_PATHWAY_IN_RESPONSE_</text>
<text x="93.80" y="203.47" font-size="5.2" text-anchor="middle" fill="#3a3a3a" textLength="82.00" lengthAdjust="spacingAndGlyphs">TO_ENDOPLASMIC_RETICULUM_STRESS</text>
<text x="103.00" y="219.20" font-size="5.0" fill="#333" textLength="18.00" lengthAdjust="spacingAndGlyphs">FDR 0.15</text>
<text x="103.00" y="224.20" font-size="5.0" fill="#333" textLength="14.00" lengthAdjust="spacingAndGlyphs"><tspan font-style="italic">P</tspan> &lt;0.01</text>
<text x="27.17" y="226.10" font-size="6.3" text-anchor="middle" fill="#3d3d3d" textLength="26.20" lengthAdjust="spacingAndGlyphs" transform="rotate(-90 27.17 226.10)">Enrichment</text>
<text x="35.47" y="226.10" font-size="6.3" text-anchor="middle" fill="#3d3d3d" textLength="21.80" lengthAdjust="spacingAndGlyphs" transform="rotate(-90 35.47 226.10)">score (ES)</text>
<text x="32.57" y="268.30" font-size="6.3" text-anchor="middle" fill="#3d3d3d" textLength="43.60" lengthAdjust="spacingAndGlyphs" transform="rotate(-90 32.57 268.30)">Ranked list metric</text>
<text x="40.57" y="268.30" font-size="6.3" text-anchor="middle" fill="#3d3d3d" textLength="36.40" lengthAdjust="spacingAndGlyphs" transform="rotate(-90 40.57 268.30)">(signal2Noise)</text>
<text x="52.30" y="261.64" font-size="4.0" fill="#cf2e2e" textLength="18.80" lengthAdjust="spacingAndGlyphs">NSC12 (5μM)</text>
<text x="52.30" y="265.84" font-size="4.0" fill="#cf2e2e" textLength="30.40" lengthAdjust="spacingAndGlyphs">(positively correlated)</text>
<text x="69.70" y="269.54" font-size="4.0" fill="#222" textLength="27.00" lengthAdjust="spacingAndGlyphs">Zero cross at 6530</text>
<text x="96.20" y="275.34" font-size="4.0" fill="#4b40b0" textLength="18.80" lengthAdjust="spacingAndGlyphs">NSC12 (5μM)</text>
<text x="96.20" y="279.04" font-size="4.0" fill="#4b40b0" textLength="32.50" lengthAdjust="spacingAndGlyphs">(negatively correlated)</text>
<line x1="192.70" y1="208.00" x2="192.70" y2="241.80" stroke="#ececec" stroke-width="0.6" />
<line x1="192.70" y1="255.00" x2="192.70" y2="277.30" stroke="#ececec" stroke-width="0.6" />
<line x1="212.80" y1="208.00" x2="212.80" y2="241.80" stroke="#ececec" stroke-width="0.6" />
<line x1="212.80" y1="255.00" x2="212.80" y2="277.30" stroke="#ececec" stroke-width="0.6" />
<line x1="232.90" y1="208.00" x2="232.90" y2="241.80" stroke="#ececec" stroke-width="0.6" />
<line x1="232.90" y1="255.00" x2="232.90" y2="277.30" stroke="#ececec" stroke-width="0.6" />
<line x1="253.00" y1="208.00" x2="253.00" y2="241.80" stroke="#ececec" stroke-width="0.6" />
<line x1="253.00" y1="255.00" x2="253.00" y2="277.30" stroke="#ececec" stroke-width="0.6" />
<line x1="172.80" y1="213.72" x2="258.40" y2="213.72" stroke="#efefef" stroke-width="0.6" />
<line x1="172.80" y1="220.06" x2="258.40" y2="220.06" stroke="#efefef" stroke-width="0.6" />
<line x1="172.80" y1="232.74" x2="258.40" y2="232.74" stroke="#efefef" stroke-width="0.6" />
<line x1="172.80" y1="239.08" x2="258.40" y2="239.08" stroke="#efefef" stroke-width="0.6" />
<line x1="172.80" y1="226.40" x2="258.40" y2="226.40" stroke="#d8d8d8" stroke-width="1.0" />
<rect x="173.50" y="241.80" width="79.50" height="10.20" fill="rgba(0,0,0,0.06)" />
<line x1="173.90" y1="241.80" x2="173.90" y2="252.00" stroke="rgba(0,0,0,0.34)" stroke-width="2.00" />
<line x1="177.80" y1="241.80" x2="177.80" y2="252.00" stroke="rgba(0,0,0,0.34)" stroke-width="2.00" />
<line x1="180.40" y1="241.80" x2="180.40" y2="252.00" stroke="rgba(0,0,0,0.49)" stroke-width="1.00" />
<line x1="182.50" y1="241.80" x2="182.50" y2="252.00" stroke="rgba(0,0,0,0.45)" stroke-width="1.00" />
<line x1="185.60" y1="241.80" x2="185.60" y2="252.00" stroke="rgba(0,0,0,0.40)" stroke-width="1.00" />
<line x1="188.80" y1="241.80" x2="188.80" y2="252.00" stroke="rgba(0,0,0,0.32)" stroke-width="2.50" />
<line x1="195.10" y1="241.80" x2="195.10" y2="252.00" stroke="rgba(0,0,0,0.30)" stroke-width="1.50" />
<line x1="200.30" y1="241.80" x2="200.30" y2="252.00" stroke="rgba(0,0,0,0.54)" stroke-width="1.00" />
<line x1="205.50" y1="241.80" x2="205.50" y2="252.00" stroke="rgba(0,0,0,0.29)" stroke-width="2.00" />
<line x1="208.10" y1="241.80" x2="208.10" y2="252.00" stroke="rgba(0,0,0,0.54)" stroke-width="1.00" />
<line x1="213.30" y1="241.80" x2="213.30" y2="252.00" stroke="rgba(0,0,0,0.45)" stroke-width="1.00" />
<line x1="221.70" y1="241.80" x2="221.70" y2="252.00" stroke="rgba(0,0,0,0.34)" stroke-width="1.50" />
<line x1="225.10" y1="241.80" x2="225.10" y2="252.00" stroke="rgba(0,0,0,0.53)" stroke-width="1.00" />
<line x1="228.10" y1="241.80" x2="228.10" y2="252.00" stroke="rgba(0,0,0,0.30)" stroke-width="1.50" />
<line x1="231.60" y1="241.80" x2="231.60" y2="252.00" stroke="rgba(0,0,0,0.31)" stroke-width="1.50" />
<line x1="234.20" y1="241.80" x2="234.20" y2="252.00" stroke="rgba(0,0,0,0.52)" stroke-width="1.00" />
<line x1="236.40" y1="241.80" x2="236.40" y2="252.00" stroke="rgba(0,0,0,0.27)" stroke-width="1.50" />
<line x1="239.40" y1="241.80" x2="239.40" y2="252.00" stroke="rgba(0,0,0,0.50)" stroke-width="1.00" />
<line x1="248.90" y1="241.80" x2="248.90" y2="252.00" stroke="rgba(0,0,0,0.54)" stroke-width="1.20" />
<line x1="251.90" y1="241.80" x2="251.90" y2="252.00" stroke="rgba(0,0,0,0.45)" stroke-width="1.00" />
<rect x="173.60" y="252.70" width="8.60" height="2.30" fill="#cc2c30" />
<rect x="182.20" y="252.70" width="9.40" height="2.30" fill="#d9545c" />
<rect x="191.60" y="252.70" width="6.90" height="2.30" fill="#e3a3c4" />
<rect x="198.50" y="252.70" width="12.25" height="2.30" fill="#d6d3f0" />
<rect x="210.75" y="252.70" width="12.25" height="2.30" fill="#c3c3ea" />
<rect x="223.00" y="252.70" width="7.30" height="2.30" fill="#7676c4" />
<rect x="230.30" y="252.70" width="11.70" height="2.30" fill="#3c3c9c" />
<rect x="242.00" y="252.70" width="11.70" height="2.30" fill="#262688" />
<path d="M173.40,265.90 L173.40,262.90 L177.11,263.42 L180.82,263.89 L184.53,264.31 L188.23,264.67 L191.94,264.98 L195.65,265.25 L199.36,265.46 L203.07,265.63 L206.78,265.76 L210.48,265.84 L214.19,265.89 L217.90,265.90 L220.74,266.47 L223.58,266.99 L226.43,267.51 L229.27,268.01 L232.11,268.51 L234.95,269.01 L237.79,269.50 L240.63,269.98 L243.47,270.47 L246.32,270.95 L249.16,271.42 L252.00,271.90 L254.50,274.70 L254.50,265.90 Z" fill="#c4c4c4" stroke="none"/>
<line x1="173.50" y1="265.90" x2="257.70" y2="265.90" stroke="#9a9a9a" stroke-width="0.5" />
<rect x="172.80" y="207.00" width="85.60" height="70.30" fill="none" stroke="#161616" stroke-width="1.4"/>
<polyline points="173.30,213.80 174.30,209.50 175.40,208.90 176.50,209.80 177.50,210.20 178.50,209.60 179.60,209.50 181.00,210.30 182.80,210.60 185.00,211.80 188.10,213.80 191.30,215.20 197.00,219.80 202.90,224.30 208.00,228.00 213.50,231.70 218.00,234.60 223.00,238.10 224.50,239.10 226.20,237.00 227.20,237.80 228.30,237.70 229.40,236.50 230.40,236.00 231.50,236.80 232.50,236.40 233.60,232.80 234.60,232.20 235.70,230.70 237.20,231.30 238.90,227.50 241.00,226.40 244.10,229.60 247.70,232.80 249.40,226.40 250.30,227.80 251.10,227.50 252.60,225.40 254.10,226.40" fill="none" stroke="#72bf3a" stroke-width="1.3" stroke-linejoin="round"/>
<line x1="169.80" y1="207.38" x2="172.80" y2="207.38" stroke="#1a1a1a" stroke-width="1.0" />
<text x="166.80" y="209.00" font-size="4.5" text-anchor="end" fill="#333">0.3</text>
<line x1="169.80" y1="213.72" x2="172.80" y2="213.72" stroke="#1a1a1a" stroke-width="1.0" />
<text x="166.80" y="215.34" font-size="4.5" text-anchor="end" fill="#333">0.2</text>
<line x1="169.80" y1="220.06" x2="172.80" y2="220.06" stroke="#1a1a1a" stroke-width="1.0" />
<text x="166.80" y="221.68" font-size="4.5" text-anchor="end" fill="#333">0.1</text>
<line x1="169.80" y1="226.40" x2="172.80" y2="226.40" stroke="#1a1a1a" stroke-width="1.0" />
<text x="166.80" y="228.02" font-size="4.5" text-anchor="end" fill="#333">0.0</text>
<line x1="169.80" y1="232.74" x2="172.80" y2="232.74" stroke="#1a1a1a" stroke-width="1.0" />
<text x="166.80" y="234.36" font-size="4.5" text-anchor="end" fill="#333">-0.1</text>
<line x1="169.80" y1="239.08" x2="172.80" y2="239.08" stroke="#1a1a1a" stroke-width="1.0" />
<text x="166.80" y="240.70" font-size="4.5" text-anchor="end" fill="#333">-0.2</text>
<text x="170.10" y="258.40" font-size="3.6" text-anchor="middle" fill="#474747" textLength="2.40" lengthAdjust="spacingAndGlyphs" transform="rotate(-90 170.10 258.40)">4</text>
<text x="170.10" y="262.20" font-size="3.6" text-anchor="middle" fill="#474747" textLength="2.40" lengthAdjust="spacingAndGlyphs" transform="rotate(-90 170.10 262.20)">2</text>
<text x="170.10" y="266.30" font-size="3.6" text-anchor="middle" fill="#474747" textLength="2.40" lengthAdjust="spacingAndGlyphs" transform="rotate(-90 170.10 266.30)">0</text>
<text x="170.10" y="270.50" font-size="3.6" text-anchor="middle" fill="#474747" textLength="4.00" lengthAdjust="spacingAndGlyphs" transform="rotate(-90 170.10 270.50)">-2</text>
<text x="170.10" y="275.50" font-size="3.6" text-anchor="middle" fill="#474747" textLength="4.00" lengthAdjust="spacingAndGlyphs" transform="rotate(-90 170.10 275.50)">-4</text>
<line x1="172.60" y1="277.30" x2="172.60" y2="279.50" stroke="#222" stroke-width="0.9" />
<text x="172.60" y="288.84" font-size="5.4" text-anchor="middle" fill="#474747" textLength="2.80" lengthAdjust="spacingAndGlyphs">0</text>
<line x1="192.70" y1="277.30" x2="192.70" y2="279.50" stroke="#222" stroke-width="0.9" />
<text x="192.70" y="288.84" font-size="5.4" text-anchor="middle" fill="#474747" textLength="11.00" lengthAdjust="spacingAndGlyphs">5,000</text>
<line x1="212.80" y1="277.30" x2="212.80" y2="279.50" stroke="#222" stroke-width="0.9" />
<text x="212.80" y="288.84" font-size="5.4" text-anchor="middle" fill="#474747" textLength="13.40" lengthAdjust="spacingAndGlyphs">10,000</text>
<line x1="232.90" y1="277.30" x2="232.90" y2="279.50" stroke="#222" stroke-width="0.9" />
<text x="232.90" y="288.84" font-size="5.4" text-anchor="middle" fill="#474747" textLength="13.20" lengthAdjust="spacingAndGlyphs">15,000</text>
<line x1="253.00" y1="277.30" x2="253.00" y2="279.50" stroke="#222" stroke-width="0.9" />
<text x="253.00" y="288.84" font-size="5.4" text-anchor="middle" fill="#474747" textLength="13.00" lengthAdjust="spacingAndGlyphs">20,000</text>
<text x="188.90" y="299.28" font-size="6.9" fill="#333" textLength="52.90" lengthAdjust="spacingAndGlyphs">Rank in ordered dataset</text>
<line x1="145.50" y1="305.80" x2="148.40" y2="305.80" stroke="#72bf3a" stroke-width="1.0" />
<text x="151.50" y="307.71" font-size="5.3" fill="#474747" textLength="34.90" lengthAdjust="spacingAndGlyphs">Enrichment profile</text>
<line x1="190.70" y1="305.80" x2="193.10" y2="305.80" stroke="#777" stroke-width="0.8" />
<text x="195.50" y="307.71" font-size="5.3" fill="#474747" textLength="7.70" lengthAdjust="spacingAndGlyphs">Hits</text>
<line x1="208.00" y1="305.80" x2="210.50" y2="305.80" stroke="#bbb" stroke-width="0.8" />
<text x="216.40" y="307.71" font-size="5.3" fill="#474747" textLength="42.10" lengthAdjust="spacingAndGlyphs">Ranking metric scores</text>
<text x="215.50" y="188.57" font-size="5.2" text-anchor="middle" fill="#3a3a3a" textLength="32.50" lengthAdjust="spacingAndGlyphs">Enrichment plot:</text>
<text x="215.50" y="193.67" font-size="5.2" text-anchor="middle" fill="#3a3a3a" textLength="63.00" lengthAdjust="spacingAndGlyphs">GO_POSITIVE_REGULATION_OF_</text>
<text x="215.50" y="198.87" font-size="5.2" text-anchor="middle" fill="#3a3a3a" textLength="62.50" lengthAdjust="spacingAndGlyphs">RESPONSE_TO_ENDOPLASMIC_</text>
<text x="215.50" y="203.97" font-size="5.2" text-anchor="middle" fill="#3a3a3a" textLength="40.00" lengthAdjust="spacingAndGlyphs">RETICULUM_STRESS</text>
<text x="227.20" y="216.00" font-size="5.0" fill="#333" textLength="17.80" lengthAdjust="spacingAndGlyphs">FDR 0.16</text>
<text x="227.20" y="220.60" font-size="5.0" fill="#333" textLength="12.50" lengthAdjust="spacingAndGlyphs"><tspan font-style="italic">P</tspan> 0.04</text>
<text x="148.57" y="223.60" font-size="6.3" text-anchor="middle" fill="#3d3d3d" textLength="25.40" lengthAdjust="spacingAndGlyphs" transform="rotate(-90 148.57 223.60)">Enrichment</text>
<text x="158.07" y="223.20" font-size="6.3" text-anchor="middle" fill="#3d3d3d" textLength="20.40" lengthAdjust="spacingAndGlyphs" transform="rotate(-90 158.07 223.20)">score (ES)</text>
<text x="153.37" y="266.85" font-size="6.3" text-anchor="middle" fill="#3d3d3d" textLength="40.70" lengthAdjust="spacingAndGlyphs" transform="rotate(-90 153.37 266.85)">Ranked list metric</text>
<text x="162.77" y="266.90" font-size="6.3" text-anchor="middle" fill="#3d3d3d" textLength="33.40" lengthAdjust="spacingAndGlyphs" transform="rotate(-90 162.77 266.90)">(signal2Noise)</text>
<text x="175.00" y="259.64" font-size="4.0" fill="#cf2e2e" textLength="18.80" lengthAdjust="spacingAndGlyphs">NSC12 (5μM)</text>
<text x="175.00" y="263.84" font-size="4.0" fill="#cf2e2e" textLength="30.40" lengthAdjust="spacingAndGlyphs">(positively correlated)</text>
<text x="190.90" y="267.54" font-size="4.0" fill="#222" textLength="27.00" lengthAdjust="spacingAndGlyphs">Zero cross at 6530</text>
<text x="217.00" y="273.04" font-size="4.0" fill="#4b40b0" textLength="18.80" lengthAdjust="spacingAndGlyphs">NSC12 (5μM)</text>
<text x="217.00" y="276.44" font-size="4.0" fill="#4b40b0" textLength="32.50" lengthAdjust="spacingAndGlyphs">(negatively correlated)</text>
<line x1="329.52" y1="214.50" x2="329.52" y2="246.00" stroke="#ececec" stroke-width="0.6" />
<line x1="329.52" y1="258.70" x2="329.52" y2="280.30" stroke="#ececec" stroke-width="0.6" />
<line x1="348.75" y1="214.50" x2="348.75" y2="246.00" stroke="#ececec" stroke-width="0.6" />
<line x1="348.75" y1="258.70" x2="348.75" y2="280.30" stroke="#ececec" stroke-width="0.6" />
<line x1="367.98" y1="214.50" x2="367.98" y2="246.00" stroke="#ececec" stroke-width="0.6" />
<line x1="367.98" y1="258.70" x2="367.98" y2="280.30" stroke="#ececec" stroke-width="0.6" />
<line x1="387.20" y1="214.50" x2="387.20" y2="246.00" stroke="#ececec" stroke-width="0.6" />
<line x1="387.20" y1="258.70" x2="387.20" y2="280.30" stroke="#ececec" stroke-width="0.6" />
<line x1="310.40" y1="215.40" x2="392.50" y2="215.40" stroke="#efefef" stroke-width="0.6" />
<line x1="310.40" y1="221.12" x2="392.50" y2="221.12" stroke="#efefef" stroke-width="0.6" />
<line x1="310.40" y1="226.84" x2="392.50" y2="226.84" stroke="#efefef" stroke-width="0.6" />
<line x1="310.40" y1="232.56" x2="392.50" y2="232.56" stroke="#efefef" stroke-width="0.6" />
<line x1="310.40" y1="238.28" x2="392.50" y2="238.28" stroke="#efefef" stroke-width="0.6" />
<line x1="310.40" y1="244.00" x2="392.50" y2="244.00" stroke="#d8d8d8" stroke-width="1.0" />
<rect x="310.40" y="242.80" width="82.10" height="3.20" fill="#ececec" />
<line x1="312.30" y1="246.00" x2="312.30" y2="255.90" stroke="rgba(0,0,0,0.46)" stroke-width="1.00" />
<line x1="314.50" y1="246.00" x2="314.50" y2="255.90" stroke="rgba(0,0,0,0.27)" stroke-width="1.50" />
<line x1="318.40" y1="246.00" x2="318.40" y2="255.90" stroke="rgba(0,0,0,0.32)" stroke-width="2.00" />
<line x1="321.80" y1="246.00" x2="321.80" y2="255.90" stroke="rgba(0,0,0,0.41)" stroke-width="1.00" />
<line x1="324.90" y1="246.00" x2="324.90" y2="255.90" stroke="rgba(0,0,0,0.31)" stroke-width="2.00" />
<line x1="331.80" y1="246.00" x2="331.80" y2="255.90" stroke="rgba(0,0,0,0.29)" stroke-width="2.00" />
<line x1="344.80" y1="246.00" x2="344.80" y2="255.90" stroke="rgba(0,0,0,0.26)" stroke-width="1.50" />
<line x1="347.40" y1="246.00" x2="347.40" y2="255.90" stroke="rgba(0,0,0,0.31)" stroke-width="1.50" />
<line x1="349.50" y1="246.00" x2="349.50" y2="255.90" stroke="rgba(0,0,0,0.41)" stroke-width="1.00" />
<line x1="360.40" y1="246.00" x2="360.40" y2="255.90" stroke="rgba(0,0,0,0.48)" stroke-width="1.00" />
<line x1="363.40" y1="246.00" x2="363.40" y2="255.90" stroke="rgba(0,0,0,0.41)" stroke-width="1.00" />
<line x1="366.90" y1="246.00" x2="366.90" y2="255.90" stroke="rgba(0,0,0,0.26)" stroke-width="2.00" />
<line x1="372.50" y1="246.00" x2="372.50" y2="255.90" stroke="rgba(0,0,0,0.48)" stroke-width="1.00" />
<rect x="311.20" y="256.40" width="8.40" height="2.30" fill="#cc2c30" />
<rect x="319.60" y="256.40" width="9.20" height="2.30" fill="#d9545c" />
<rect x="328.80" y="256.40" width="6.00" height="2.30" fill="#e3a3c4" />
<rect x="334.80" y="256.40" width="11.95" height="2.30" fill="#d6d3f0" />
<rect x="346.75" y="256.40" width="11.95" height="2.30" fill="#c3c3ea" />
<rect x="358.70" y="256.40" width="6.90" height="2.30" fill="#7676c4" />
<rect x="365.60" y="256.40" width="11.20" height="2.30" fill="#3c3c9c" />
<rect x="376.80" y="256.40" width="11.20" height="2.30" fill="#262688" />
<path d="M311.00,268.50 L311.00,265.50 L314.57,266.02 L318.15,266.49 L321.73,266.91 L325.30,267.27 L328.88,267.58 L332.45,267.85 L336.02,268.06 L339.60,268.23 L343.18,268.36 L346.75,268.44 L350.32,268.49 L353.90,268.50 L356.60,269.07 L359.30,269.59 L362.00,270.11 L364.70,270.61 L367.40,271.11 L370.10,271.61 L372.80,272.10 L375.50,272.58 L378.20,273.07 L380.90,273.55 L383.60,274.02 L386.30,274.50 L388.80,277.70 L388.80,268.50 Z" fill="#c4c4c4" stroke="none"/>
<line x1="311.10" y1="268.50" x2="391.80" y2="268.50" stroke="#9a9a9a" stroke-width="0.5" />
<rect x="310.40" y="213.50" width="82.10" height="66.80" fill="none" stroke="#161616" stroke-width="1.4"/>
<polyline points="310.70,217.50 312.20,215.40 313.70,216.50 315.40,215.00 317.50,216.50 319.60,215.40 321.70,216.90 324.90,216.00 327.00,217.50 332.30,220.70 338.70,224.90 345.00,229.20 347.00,229.80 349.20,230.20 353.50,232.30 357.70,235.10 360.90,237.60 363.00,236.60 364.50,238.30 366.20,235.50 367.90,233.00 369.30,234.40 371.40,235.90 372.90,231.70 374.60,233.40 381.00,238.20 388.40,243.50" fill="none" stroke="#72bf3a" stroke-width="1.3" stroke-linejoin="round"/>
<line x1="307.40" y1="215.40" x2="310.40" y2="215.40" stroke="#1a1a1a" stroke-width="1.0" />
<text x="304.50" y="217.02" font-size="4.5" text-anchor="end" fill="#333">0.5</text>
<line x1="307.40" y1="221.12" x2="310.40" y2="221.12" stroke="#1a1a1a" stroke-width="1.0" />
<text x="304.50" y="222.74" font-size="4.5" text-anchor="end" fill="#333">0.4</text>
<line x1="307.40" y1="226.84" x2="310.40" y2="226.84" stroke="#1a1a1a" stroke-width="1.0" />
<text x="304.50" y="228.46" font-size="4.5" text-anchor="end" fill="#333">0.3</text>
<line x1="307.40" y1="232.56" x2="310.40" y2="232.56" stroke="#1a1a1a" stroke-width="1.0" />
<text x="304.50" y="234.18" font-size="4.5" text-anchor="end" fill="#333">0.2</text>
<line x1="307.40" y1="238.28" x2="310.40" y2="238.28" stroke="#1a1a1a" stroke-width="1.0" />
<text x="304.50" y="239.90" font-size="4.5" text-anchor="end" fill="#333">0.1</text>
<line x1="307.40" y1="244.00" x2="310.40" y2="244.00" stroke="#1a1a1a" stroke-width="1.0" />
<text x="304.50" y="245.62" font-size="4.5" text-anchor="end" fill="#333">0.0</text>
<text x="306.80" y="260.60" font-size="3.6" text-anchor="middle" fill="#474747" textLength="2.40" lengthAdjust="spacingAndGlyphs" transform="rotate(-90 306.80 260.60)">4</text>
<text x="306.80" y="264.60" font-size="3.6" text-anchor="middle" fill="#474747" textLength="2.40" lengthAdjust="spacingAndGlyphs" transform="rotate(-90 306.80 264.60)">2</text>
<text x="306.80" y="268.80" font-size="3.6" text-anchor="middle" fill="#474747" textLength="2.40" lengthAdjust="spacingAndGlyphs" transform="rotate(-90 306.80 268.80)">0</text>
<text x="306.80" y="273.50" font-size="3.6" text-anchor="middle" fill="#474747" textLength="4.00" lengthAdjust="spacingAndGlyphs" transform="rotate(-90 306.80 273.50)">-2</text>
<text x="306.80" y="279.00" font-size="3.6" text-anchor="middle" fill="#474747" textLength="4.00" lengthAdjust="spacingAndGlyphs" transform="rotate(-90 306.80 279.00)">-4</text>
<line x1="310.30" y1="280.30" x2="310.30" y2="282.50" stroke="#222" stroke-width="0.9" />
<text x="310.30" y="290.14" font-size="5.4" text-anchor="middle" fill="#474747" textLength="2.80" lengthAdjust="spacingAndGlyphs">0</text>
<line x1="329.52" y1="280.30" x2="329.52" y2="282.50" stroke="#222" stroke-width="0.9" />
<text x="329.52" y="290.14" font-size="5.4" text-anchor="middle" fill="#474747" textLength="11.00" lengthAdjust="spacingAndGlyphs">5,000</text>
<line x1="348.75" y1="280.30" x2="348.75" y2="282.50" stroke="#222" stroke-width="0.9" />
<text x="348.75" y="290.14" font-size="5.4" text-anchor="middle" fill="#474747" textLength="13.40" lengthAdjust="spacingAndGlyphs">10,000</text>
<line x1="367.98" y1="280.30" x2="367.98" y2="282.50" stroke="#222" stroke-width="0.9" />
<text x="367.98" y="290.14" font-size="5.4" text-anchor="middle" fill="#474747" textLength="13.20" lengthAdjust="spacingAndGlyphs">15,000</text>
<line x1="387.20" y1="280.30" x2="387.20" y2="282.50" stroke="#222" stroke-width="0.9" />
<text x="387.20" y="290.14" font-size="5.4" text-anchor="middle" fill="#474747" textLength="13.00" lengthAdjust="spacingAndGlyphs">20,000</text>
<text x="324.70" y="299.78" font-size="6.9" fill="#333" textLength="52.90" lengthAdjust="spacingAndGlyphs">Rank in ordered dataset</text>
<line x1="282.30" y1="306.20" x2="285.20" y2="306.20" stroke="#72bf3a" stroke-width="1.0" />
<text x="288.30" y="308.11" font-size="5.3" fill="#474747" textLength="34.90" lengthAdjust="spacingAndGlyphs">Enrichment profile</text>
<line x1="327.50" y1="306.20" x2="329.90" y2="306.20" stroke="#777" stroke-width="0.8" />
<text x="332.30" y="308.11" font-size="5.3" fill="#474747" textLength="7.70" lengthAdjust="spacingAndGlyphs">Hits</text>
<line x1="344.80" y1="306.20" x2="347.30" y2="306.20" stroke="#bbb" stroke-width="0.8" />
<text x="353.20" y="308.11" font-size="5.3" fill="#474747" textLength="42.10" lengthAdjust="spacingAndGlyphs">Ranking metric scores</text>
<text x="351.30" y="199.87" font-size="5.2" text-anchor="middle" fill="#3a3a3a" textLength="32.50" lengthAdjust="spacingAndGlyphs">Enrichment plot:</text>
<text x="351.30" y="204.97" font-size="5.2" text-anchor="middle" fill="#3a3a3a" textLength="71.00" lengthAdjust="spacingAndGlyphs">GO_PERK_MEDIATED_UNFOLDED_</text>
<text x="351.30" y="210.07" font-size="5.2" text-anchor="middle" fill="#3a3a3a" textLength="45.00" lengthAdjust="spacingAndGlyphs">PROTEIN_RESPONSE</text>
<text x="352.40" y="220.40" font-size="5.0" fill="#333" textLength="19.00" lengthAdjust="spacingAndGlyphs">FDR &lt;0.01</text>
<text x="352.40" y="225.40" font-size="5.0" fill="#333" textLength="14.00" lengthAdjust="spacingAndGlyphs"><tspan font-style="italic">P</tspan> &lt;0.01</text>
<text x="285.97" y="226.10" font-size="6.3" text-anchor="middle" fill="#3d3d3d" textLength="26.20" lengthAdjust="spacingAndGlyphs" transform="rotate(-90 285.97 226.10)">Enrichment</text>
<text x="294.77" y="225.75" font-size="6.3" text-anchor="middle" fill="#3d3d3d" textLength="21.10" lengthAdjust="spacingAndGlyphs" transform="rotate(-90 294.77 225.75)">score (ES)</text>
<text x="291.07" y="269.75" font-size="6.3" text-anchor="middle" fill="#3d3d3d" textLength="40.70" lengthAdjust="spacingAndGlyphs" transform="rotate(-90 291.07 269.75)">Ranked list metric</text>
<text x="298.77" y="269.35" font-size="6.3" text-anchor="middle" fill="#3d3d3d" textLength="35.70" lengthAdjust="spacingAndGlyphs" transform="rotate(-90 298.77 269.35)">(signal2Noise)</text>
<text x="312.00" y="262.34" font-size="4.0" fill="#cf2e2e" textLength="18.80" lengthAdjust="spacingAndGlyphs">NSC12 (5μM)</text>
<text x="312.00" y="265.94" font-size="4.0" fill="#cf2e2e" textLength="30.40" lengthAdjust="spacingAndGlyphs">(positively correlated)</text>
<text x="326.90" y="270.14" font-size="4.0" fill="#222" textLength="27.00" lengthAdjust="spacingAndGlyphs">Zero cross at 6530</text>
<text x="355.30" y="275.24" font-size="4.0" fill="#4b40b0" textLength="18.80" lengthAdjust="spacingAndGlyphs">NSC12 (5μM)</text>
<text x="355.30" y="279.64" font-size="4.0" fill="#4b40b0" textLength="32.50" lengthAdjust="spacingAndGlyphs">(negatively correlated)</text>
<line x1="449.55" y1="214.60" x2="449.55" y2="246.00" stroke="#ececec" stroke-width="0.6" />
<line x1="449.55" y1="258.80" x2="449.55" y2="280.10" stroke="#ececec" stroke-width="0.6" />
<line x1="468.50" y1="214.60" x2="468.50" y2="246.00" stroke="#ececec" stroke-width="0.6" />
<line x1="468.50" y1="258.80" x2="468.50" y2="280.10" stroke="#ececec" stroke-width="0.6" />
<line x1="487.45" y1="214.60" x2="487.45" y2="246.00" stroke="#ececec" stroke-width="0.6" />
<line x1="487.45" y1="258.80" x2="487.45" y2="280.10" stroke="#ececec" stroke-width="0.6" />
<line x1="506.40" y1="214.60" x2="506.40" y2="246.00" stroke="#ececec" stroke-width="0.6" />
<line x1="506.40" y1="258.80" x2="506.40" y2="280.10" stroke="#ececec" stroke-width="0.6" />
<line x1="430.70" y1="214.92" x2="511.40" y2="214.92" stroke="#efefef" stroke-width="0.6" />
<line x1="430.70" y1="220.59" x2="511.40" y2="220.59" stroke="#efefef" stroke-width="0.6" />
<line x1="430.70" y1="226.26" x2="511.40" y2="226.26" stroke="#efefef" stroke-width="0.6" />
<line x1="430.70" y1="231.93" x2="511.40" y2="231.93" stroke="#efefef" stroke-width="0.6" />
<line x1="430.70" y1="243.27" x2="511.40" y2="243.27" stroke="#efefef" stroke-width="0.6" />
<line x1="430.70" y1="237.60" x2="511.40" y2="237.60" stroke="#d8d8d8" stroke-width="1.0" />
<line x1="435.40" y1="246.00" x2="435.40" y2="255.90" stroke="rgba(0,0,0,0.44)" stroke-width="1.00" />
<line x1="445.30" y1="246.00" x2="445.30" y2="255.90" stroke="rgba(0,0,0,0.57)" stroke-width="1.00" />
<line x1="456.10" y1="246.00" x2="456.10" y2="255.90" stroke="rgba(0,0,0,0.26)" stroke-width="2.00" />
<line x1="464.30" y1="246.00" x2="464.30" y2="255.90" stroke="rgba(0,0,0,0.33)" stroke-width="2.50" />
<line x1="469.50" y1="246.00" x2="469.50" y2="255.90" stroke="rgba(0,0,0,0.42)" stroke-width="1.00" />
<line x1="476.90" y1="246.00" x2="476.90" y2="255.90" stroke="rgba(0,0,0,0.44)" stroke-width="1.00" />
<line x1="479.50" y1="246.00" x2="479.50" y2="255.90" stroke="rgba(0,0,0,0.58)" stroke-width="1.00" />
<line x1="481.50" y1="246.00" x2="481.50" y2="255.90" stroke="rgba(0,0,0,0.44)" stroke-width="1.20" />
<line x1="483.50" y1="246.00" x2="483.50" y2="255.90" stroke="rgba(0,0,0,0.52)" stroke-width="1.00" />
<line x1="485.00" y1="246.00" x2="485.00" y2="255.90" stroke="rgba(0,0,0,0.48)" stroke-width="1.20" />
<line x1="486.60" y1="246.00" x2="486.60" y2="255.90" stroke="rgba(0,0,0,0.48)" stroke-width="1.00" />
<line x1="489.50" y1="246.00" x2="489.50" y2="255.90" stroke="rgba(0,0,0,0.49)" stroke-width="1.00" />
<line x1="491.60" y1="246.00" x2="491.60" y2="255.90" stroke="rgba(0,0,0,0.43)" stroke-width="1.00" />
<line x1="493.40" y1="246.00" x2="493.40" y2="255.90" stroke="rgba(0,0,0,0.55)" stroke-width="1.00" />
<rect x="431.50" y="256.80" width="8.25" height="2.00" fill="#cc2c30" />
<rect x="439.75" y="256.80" width="9.05" height="2.00" fill="#d9545c" />
<rect x="448.80" y="256.80" width="6.90" height="2.00" fill="#e3a3c4" />
<rect x="455.70" y="256.80" width="11.25" height="2.00" fill="#d6d3f0" />
<rect x="466.95" y="256.80" width="11.25" height="2.00" fill="#c3c3ea" />
<rect x="478.20" y="256.80" width="6.50" height="2.00" fill="#7676c4" />
<rect x="484.70" y="256.80" width="11.25" height="2.00" fill="#3c3c9c" />
<rect x="495.95" y="256.80" width="11.25" height="2.00" fill="#262688" />
<path d="M431.30,268.50 L431.30,265.50 L434.93,266.02 L438.57,266.49 L442.20,266.91 L445.83,267.27 L449.47,267.58 L453.10,267.85 L456.73,268.06 L460.37,268.23 L464.00,268.36 L467.63,268.44 L471.27,268.49 L474.90,268.50 L477.45,269.07 L480.00,269.59 L482.55,270.11 L485.10,270.61 L487.65,271.11 L490.20,271.61 L492.75,272.10 L495.30,272.58 L497.85,273.07 L500.40,273.55 L502.95,274.02 L505.50,274.50 L508.00,277.50 L508.00,268.50 Z" fill="#c4c4c4" stroke="none"/>
<line x1="431.40" y1="268.50" x2="510.70" y2="268.50" stroke="#9a9a9a" stroke-width="0.5" />
<rect x="430.70" y="213.60" width="80.70" height="66.50" fill="none" stroke="#161616" stroke-width="1.4"/>
<polyline points="431.20,218.60 432.80,216.90 434.30,217.50 435.40,216.00 436.40,215.40 440.00,217.80 443.80,220.70 445.50,222.40 448.00,222.80 455.00,227.80 462.90,233.40 467.00,236.00 471.30,238.70 475.60,241.80 477.70,242.90 479.80,243.50 481.90,242.30 483.00,240.80 484.00,239.30 485.10,235.50 486.60,232.30 488.30,231.30 489.00,232.00 490.00,229.80 491.40,230.80 492.90,228.70 494.20,227.50 501.00,232.20 508.40,237.20" fill="none" stroke="#72bf3a" stroke-width="1.3" stroke-linejoin="round"/>
<line x1="427.70" y1="214.92" x2="430.70" y2="214.92" stroke="#1a1a1a" stroke-width="1.0" />
<text x="425.00" y="216.54" font-size="4.5" text-anchor="end" fill="#333">0.4</text>
<line x1="427.70" y1="220.59" x2="430.70" y2="220.59" stroke="#1a1a1a" stroke-width="1.0" />
<text x="425.00" y="222.21" font-size="4.5" text-anchor="end" fill="#333">0.3</text>
<line x1="427.70" y1="226.26" x2="430.70" y2="226.26" stroke="#1a1a1a" stroke-width="1.0" />
<text x="425.00" y="227.88" font-size="4.5" text-anchor="end" fill="#333">0.2</text>
<line x1="427.70" y1="231.93" x2="430.70" y2="231.93" stroke="#1a1a1a" stroke-width="1.0" />
<text x="425.00" y="233.55" font-size="4.5" text-anchor="end" fill="#333">0.1</text>
<line x1="427.70" y1="237.60" x2="430.70" y2="237.60" stroke="#1a1a1a" stroke-width="1.0" />
<text x="425.00" y="239.22" font-size="4.5" text-anchor="end" fill="#333">0.0</text>
<line x1="427.70" y1="243.27" x2="430.70" y2="243.27" stroke="#1a1a1a" stroke-width="1.0" />
<text x="425.00" y="244.89" font-size="4.5" text-anchor="end" fill="#333">-0.1</text>
<text x="427.70" y="260.60" font-size="3.6" text-anchor="middle" fill="#474747" textLength="2.40" lengthAdjust="spacingAndGlyphs" transform="rotate(-90 427.70 260.60)">4</text>
<text x="427.70" y="264.70" font-size="3.6" text-anchor="middle" fill="#474747" textLength="2.40" lengthAdjust="spacingAndGlyphs" transform="rotate(-90 427.70 264.70)">2</text>
<text x="427.70" y="269.00" font-size="3.6" text-anchor="middle" fill="#474747" textLength="2.40" lengthAdjust="spacingAndGlyphs" transform="rotate(-90 427.70 269.00)">0</text>
<text x="427.70" y="273.80" font-size="3.6" text-anchor="middle" fill="#474747" textLength="4.00" lengthAdjust="spacingAndGlyphs" transform="rotate(-90 427.70 273.80)">-2</text>
<text x="427.70" y="279.50" font-size="3.6" text-anchor="middle" fill="#474747" textLength="4.00" lengthAdjust="spacingAndGlyphs" transform="rotate(-90 427.70 279.50)">-4</text>
<line x1="430.60" y1="280.10" x2="430.60" y2="282.30" stroke="#222" stroke-width="0.9" />
<text x="430.60" y="290.14" font-size="5.4" text-anchor="middle" fill="#474747" textLength="2.80" lengthAdjust="spacingAndGlyphs">0</text>
<line x1="449.55" y1="280.10" x2="449.55" y2="282.30" stroke="#222" stroke-width="0.9" />
<text x="449.55" y="290.14" font-size="5.4" text-anchor="middle" fill="#474747" textLength="11.00" lengthAdjust="spacingAndGlyphs">5,000</text>
<line x1="468.50" y1="280.10" x2="468.50" y2="282.30" stroke="#222" stroke-width="0.9" />
<text x="468.50" y="290.14" font-size="5.4" text-anchor="middle" fill="#474747" textLength="13.40" lengthAdjust="spacingAndGlyphs">10,000</text>
<line x1="487.45" y1="280.10" x2="487.45" y2="282.30" stroke="#222" stroke-width="0.9" />
<text x="487.45" y="290.14" font-size="5.4" text-anchor="middle" fill="#474747" textLength="13.20" lengthAdjust="spacingAndGlyphs">15,000</text>
<line x1="506.40" y1="280.10" x2="506.40" y2="282.30" stroke="#222" stroke-width="0.9" />
<text x="506.40" y="290.14" font-size="5.4" text-anchor="middle" fill="#474747" textLength="13.00" lengthAdjust="spacingAndGlyphs">20,000</text>
<text x="444.90" y="299.78" font-size="6.9" fill="#333" textLength="52.90" lengthAdjust="spacingAndGlyphs">Rank in ordered dataset</text>
<line x1="398.00" y1="306.20" x2="400.90" y2="306.20" stroke="#72bf3a" stroke-width="1.0" />
<text x="404.00" y="308.11" font-size="5.3" fill="#474747" textLength="34.90" lengthAdjust="spacingAndGlyphs">Enrichment profile</text>
<line x1="443.20" y1="306.20" x2="445.60" y2="306.20" stroke="#777" stroke-width="0.8" />
<text x="448.00" y="308.11" font-size="5.3" fill="#474747" textLength="7.70" lengthAdjust="spacingAndGlyphs">Hits</text>
<line x1="460.50" y1="306.20" x2="463.00" y2="306.20" stroke="#bbb" stroke-width="0.8" />
<text x="468.90" y="308.11" font-size="5.3" fill="#474747" textLength="42.10" lengthAdjust="spacingAndGlyphs">Ranking metric scores</text>
<text x="471.30" y="194.87" font-size="5.2" text-anchor="middle" fill="#3a3a3a" textLength="32.50" lengthAdjust="spacingAndGlyphs">Enrichment plot:</text>
<text x="471.30" y="199.87" font-size="5.2" text-anchor="middle" fill="#3a3a3a" textLength="55.00" lengthAdjust="spacingAndGlyphs">GO_REGULATION_OF_</text>
<text x="471.30" y="205.07" font-size="5.2" text-anchor="middle" fill="#3a3a3a" textLength="61.00" lengthAdjust="spacingAndGlyphs">ENDOPLASMIC_RETICULUM_</text>
<text x="471.30" y="210.47" font-size="5.2" text-anchor="middle" fill="#3a3a3a" textLength="68.00" lengthAdjust="spacingAndGlyphs">UNFOLDED_PROTEIN_RESPONSE</text>
<text x="476.60" y="221.20" font-size="5.0" fill="#333" textLength="17.80" lengthAdjust="spacingAndGlyphs">FDR 0.02</text>
<text x="476.60" y="226.10" font-size="5.0" fill="#333" textLength="12.50" lengthAdjust="spacingAndGlyphs"><tspan font-style="italic">P</tspan> 0.02</text>
<text x="406.67" y="226.10" font-size="6.3" text-anchor="middle" fill="#3d3d3d" textLength="26.20" lengthAdjust="spacingAndGlyphs" transform="rotate(-90 406.67 226.10)">Enrichment</text>
<text x="415.47" y="226.10" font-size="6.3" text-anchor="middle" fill="#3d3d3d" textLength="21.80" lengthAdjust="spacingAndGlyphs" transform="rotate(-90 415.47 226.10)">score (ES)</text>
<text x="412.27" y="270.10" font-size="6.3" text-anchor="middle" fill="#3d3d3d" textLength="40.00" lengthAdjust="spacingAndGlyphs" transform="rotate(-90 412.27 270.10)">Ranked list metric</text>
<text x="420.27" y="269.70" font-size="6.3" text-anchor="middle" fill="#3d3d3d" textLength="36.40" lengthAdjust="spacingAndGlyphs" transform="rotate(-90 420.27 269.70)">(signal2Noise)</text>
<text x="432.30" y="262.84" font-size="4.0" fill="#cf2e2e" textLength="18.80" lengthAdjust="spacingAndGlyphs">NSC12 (5μM)</text>
<text x="432.30" y="266.44" font-size="4.0" fill="#cf2e2e" textLength="30.40" lengthAdjust="spacingAndGlyphs">(positively correlated)</text>
<text x="447.90" y="270.14" font-size="4.0" fill="#222" textLength="27.00" lengthAdjust="spacingAndGlyphs">Zero cross at 6530</text>
<text x="472.90" y="275.24" font-size="4.0" fill="#4b40b0" textLength="18.80" lengthAdjust="spacingAndGlyphs">NSC12 (5μM)</text>
<text x="472.90" y="279.34" font-size="4.0" fill="#4b40b0" textLength="32.50" lengthAdjust="spacingAndGlyphs">(negatively correlated)</text>
<line x1="71.55" y1="341.60" x2="71.55" y2="373.80" stroke="#ececec" stroke-width="0.6" />
<line x1="71.55" y1="386.40" x2="71.55" y2="407.40" stroke="#ececec" stroke-width="0.6" />
<line x1="90.90" y1="341.60" x2="90.90" y2="373.80" stroke="#ececec" stroke-width="0.6" />
<line x1="90.90" y1="386.40" x2="90.90" y2="407.40" stroke="#ececec" stroke-width="0.6" />
<line x1="110.25" y1="341.60" x2="110.25" y2="373.80" stroke="#ececec" stroke-width="0.6" />
<line x1="110.25" y1="386.40" x2="110.25" y2="407.40" stroke="#ececec" stroke-width="0.6" />
<line x1="129.60" y1="341.60" x2="129.60" y2="373.80" stroke="#ececec" stroke-width="0.6" />
<line x1="129.60" y1="386.40" x2="129.60" y2="407.40" stroke="#ececec" stroke-width="0.6" />
<line x1="52.20" y1="344.05" x2="134.80" y2="344.05" stroke="#efefef" stroke-width="0.6" />
<line x1="52.20" y1="348.92" x2="134.80" y2="348.92" stroke="#efefef" stroke-width="0.6" />
<line x1="52.20" y1="353.79" x2="134.80" y2="353.79" stroke="#efefef" stroke-width="0.6" />
<line x1="52.20" y1="358.66" x2="134.80" y2="358.66" stroke="#efefef" stroke-width="0.6" />
<line x1="52.20" y1="363.53" x2="134.80" y2="363.53" stroke="#efefef" stroke-width="0.6" />
<line x1="52.20" y1="373.27" x2="134.80" y2="373.27" stroke="#efefef" stroke-width="0.6" />
<line x1="52.20" y1="368.40" x2="134.80" y2="368.40" stroke="#d8d8d8" stroke-width="1.0" />
<rect x="53.00" y="373.80" width="77.50" height="9.70" fill="rgba(0,0,0,0.14)" />
<line x1="56.00" y1="373.80" x2="56.00" y2="383.50" stroke="rgba(0,0,0,0.30)" stroke-width="2.00" />
<line x1="61.20" y1="373.80" x2="61.20" y2="383.50" stroke="rgba(0,0,0,0.29)" stroke-width="3.50" />
<line x1="66.40" y1="373.80" x2="66.40" y2="383.50" stroke="rgba(0,0,0,0.27)" stroke-width="2.00" />
<line x1="68.60" y1="373.80" x2="68.60" y2="383.50" stroke="rgba(0,0,0,0.56)" stroke-width="1.00" />
<line x1="78.30" y1="373.80" x2="78.30" y2="383.50" stroke="rgba(0,0,0,0.25)" stroke-width="1.50" />
<line x1="80.70" y1="373.80" x2="80.70" y2="383.50" stroke="rgba(0,0,0,0.31)" stroke-width="1.50" />
<line x1="84.60" y1="373.80" x2="84.60" y2="383.50" stroke="rgba(0,0,0,0.56)" stroke-width="1.00" />
<line x1="92.40" y1="373.80" x2="92.40" y2="383.50" stroke="rgba(0,0,0,0.26)" stroke-width="2.00" />
<line x1="95.40" y1="373.80" x2="95.40" y2="383.50" stroke="rgba(0,0,0,0.31)" stroke-width="2.00" />
<line x1="100.70" y1="373.80" x2="100.70" y2="383.50" stroke="rgba(0,0,0,0.51)" stroke-width="1.00" />
<line x1="103.70" y1="373.80" x2="103.70" y2="383.50" stroke="rgba(0,0,0,0.25)" stroke-width="3.00" />
<line x1="112.30" y1="373.80" x2="112.30" y2="383.50" stroke="rgba(0,0,0,0.29)" stroke-width="2.00" />
<line x1="117.50" y1="373.80" x2="117.50" y2="383.50" stroke="rgba(0,0,0,0.33)" stroke-width="2.00" />
<line x1="119.70" y1="373.80" x2="119.70" y2="383.50" stroke="rgba(0,0,0,0.48)" stroke-width="1.00" />
<line x1="121.80" y1="373.80" x2="121.80" y2="383.50" stroke="rgba(0,0,0,0.33)" stroke-width="1.50" />
<line x1="124.00" y1="373.80" x2="124.00" y2="383.50" stroke="rgba(0,0,0,0.27)" stroke-width="1.50" />
<line x1="127.80" y1="373.80" x2="127.80" y2="383.50" stroke="rgba(0,0,0,0.28)" stroke-width="3.50" />
<rect x="53.00" y="384.20" width="11.10" height="2.20" fill="#cc2c30" />
<rect x="64.10" y="384.20" width="11.90" height="2.20" fill="#d9545c" />
<rect x="76.00" y="384.20" width="7.70" height="2.20" fill="#e3a3c4" />
<rect x="83.70" y="384.20" width="10.65" height="2.20" fill="#d6d3f0" />
<rect x="94.35" y="384.20" width="10.65" height="2.20" fill="#c3c3ea" />
<rect x="105.00" y="384.20" width="7.80" height="2.20" fill="#7676c4" />
<rect x="112.80" y="384.20" width="8.85" height="2.20" fill="#3c3c9c" />
<rect x="121.65" y="384.20" width="8.85" height="2.20" fill="#262688" />
<path d="M52.80,396.30 L52.80,393.30 L56.46,393.82 L60.12,394.29 L63.78,394.71 L67.43,395.07 L71.09,395.38 L74.75,395.65 L78.41,395.86 L82.07,396.03 L85.72,396.16 L89.38,396.24 L93.04,396.29 L96.70,396.30 L99.38,396.87 L102.05,397.39 L104.73,397.91 L107.40,398.41 L110.08,398.91 L112.75,399.41 L115.43,399.90 L118.10,400.38 L120.78,400.87 L123.45,401.35 L126.13,401.82 L128.80,402.30 L131.30,404.80 L131.30,396.30 Z" fill="#c4c4c4" stroke="none"/>
<line x1="52.90" y1="396.30" x2="134.10" y2="396.30" stroke="#9a9a9a" stroke-width="0.5" />
<rect x="52.20" y="340.60" width="82.60" height="66.80" fill="none" stroke="#161616" stroke-width="1.4"/>
<polyline points="52.60,345.50 53.70,343.40 55.40,343.00 57.10,341.90 58.50,342.40 59.60,342.80 61.50,343.30 63.80,344.00 66.50,344.80 69.10,345.50 72.30,347.60 77.50,350.80 82.90,354.00 88.00,356.50 93.50,359.30 98.50,361.80 104.00,364.60 108.00,366.60 112.50,368.80 116.30,370.50 118.90,370.50 120.50,370.20 122.00,369.80 123.00,368.50 124.10,367.70 125.20,367.80 126.30,367.30 127.80,367.80 129.40,367.70 131.10,367.10" fill="none" stroke="#72bf3a" stroke-width="1.3" stroke-linejoin="round"/>
<line x1="49.20" y1="344.05" x2="52.20" y2="344.05" stroke="#1a1a1a" stroke-width="1.0" />
<text x="46.50" y="345.67" font-size="4.5" text-anchor="end" fill="#333">0.5</text>
<line x1="49.20" y1="348.92" x2="52.20" y2="348.92" stroke="#1a1a1a" stroke-width="1.0" />
<text x="46.50" y="350.54" font-size="4.5" text-anchor="end" fill="#333">0.4</text>
<line x1="49.20" y1="353.79" x2="52.20" y2="353.79" stroke="#1a1a1a" stroke-width="1.0" />
<text x="46.50" y="355.41" font-size="4.5" text-anchor="end" fill="#333">0.3</text>
<line x1="49.20" y1="358.66" x2="52.20" y2="358.66" stroke="#1a1a1a" stroke-width="1.0" />
<text x="46.50" y="360.28" font-size="4.5" text-anchor="end" fill="#333">0.2</text>
<line x1="49.20" y1="363.53" x2="52.20" y2="363.53" stroke="#1a1a1a" stroke-width="1.0" />
<text x="46.50" y="365.15" font-size="4.5" text-anchor="end" fill="#333">0.1</text>
<line x1="49.20" y1="368.40" x2="52.20" y2="368.40" stroke="#1a1a1a" stroke-width="1.0" />
<text x="46.50" y="370.02" font-size="4.5" text-anchor="end" fill="#333">0.0</text>
<line x1="49.20" y1="373.27" x2="52.20" y2="373.27" stroke="#1a1a1a" stroke-width="1.0" />
<text x="46.50" y="374.89" font-size="4.5" text-anchor="end" fill="#333">-0.1</text>
<text x="49.80" y="387.00" font-size="3.6" text-anchor="middle" fill="#474747" textLength="2.40" lengthAdjust="spacingAndGlyphs" transform="rotate(-90 49.80 387.00)">4</text>
<text x="49.80" y="391.00" font-size="3.6" text-anchor="middle" fill="#474747" textLength="2.40" lengthAdjust="spacingAndGlyphs" transform="rotate(-90 49.80 391.00)">2</text>
<text x="49.80" y="395.20" font-size="3.6" text-anchor="middle" fill="#474747" textLength="2.40" lengthAdjust="spacingAndGlyphs" transform="rotate(-90 49.80 395.20)">0</text>
<text x="49.80" y="399.80" font-size="3.6" text-anchor="middle" fill="#474747" textLength="4.00" lengthAdjust="spacingAndGlyphs" transform="rotate(-90 49.80 399.80)">-2</text>
<text x="49.80" y="405.30" font-size="3.6" text-anchor="middle" fill="#474747" textLength="4.00" lengthAdjust="spacingAndGlyphs" transform="rotate(-90 49.80 405.30)">-4</text>
<line x1="52.20" y1="407.40" x2="52.20" y2="409.60" stroke="#222" stroke-width="0.9" />
<text x="52.20" y="417.74" font-size="5.4" text-anchor="middle" fill="#474747" textLength="2.80" lengthAdjust="spacingAndGlyphs">0</text>
<line x1="71.55" y1="407.40" x2="71.55" y2="409.60" stroke="#222" stroke-width="0.9" />
<text x="71.55" y="417.74" font-size="5.4" text-anchor="middle" fill="#474747" textLength="11.00" lengthAdjust="spacingAndGlyphs">5,000</text>
<line x1="90.90" y1="407.40" x2="90.90" y2="409.60" stroke="#222" stroke-width="0.9" />
<text x="90.90" y="417.74" font-size="5.4" text-anchor="middle" fill="#474747" textLength="13.40" lengthAdjust="spacingAndGlyphs">10,000</text>
<line x1="110.25" y1="407.40" x2="110.25" y2="409.60" stroke="#222" stroke-width="0.9" />
<text x="110.25" y="417.74" font-size="5.4" text-anchor="middle" fill="#474747" textLength="13.20" lengthAdjust="spacingAndGlyphs">15,000</text>
<line x1="129.60" y1="407.40" x2="129.60" y2="409.60" stroke="#222" stroke-width="0.9" />
<text x="129.60" y="417.74" font-size="5.4" text-anchor="middle" fill="#474747" textLength="13.00" lengthAdjust="spacingAndGlyphs">20,000</text>
<text x="68.00" y="427.08" font-size="6.9" fill="#333" textLength="52.90" lengthAdjust="spacingAndGlyphs">Rank in ordered dataset</text>
<line x1="22.00" y1="434.00" x2="24.90" y2="434.00" stroke="#72bf3a" stroke-width="1.0" />
<text x="28.00" y="435.91" font-size="5.3" fill="#474747" textLength="34.90" lengthAdjust="spacingAndGlyphs">Enrichment profile</text>
<line x1="67.20" y1="434.00" x2="69.60" y2="434.00" stroke="#777" stroke-width="0.8" />
<text x="72.00" y="435.91" font-size="5.3" fill="#474747" textLength="7.70" lengthAdjust="spacingAndGlyphs">Hits</text>
<line x1="84.50" y1="434.00" x2="87.00" y2="434.00" stroke="#bbb" stroke-width="0.8" />
<text x="92.90" y="435.91" font-size="5.3" fill="#474747" textLength="42.10" lengthAdjust="spacingAndGlyphs">Ranking metric scores</text>
<text x="93.80" y="321.87" font-size="5.2" text-anchor="middle" fill="#3a3a3a" textLength="32.50" lengthAdjust="spacingAndGlyphs">Enrichment plot:</text>
<text x="93.80" y="326.87" font-size="5.2" text-anchor="middle" fill="#3a3a3a" textLength="57.50" lengthAdjust="spacingAndGlyphs">GO_INTRINSIC_APOPTOTIC_</text>
<text x="93.80" y="331.87" font-size="5.2" text-anchor="middle" fill="#3a3a3a" textLength="77.50" lengthAdjust="spacingAndGlyphs">SIGNALING_PATHWAY_IN_RESPONSE_</text>
<text x="93.80" y="336.87" font-size="5.2" text-anchor="middle" fill="#3a3a3a" textLength="82.00" lengthAdjust="spacingAndGlyphs">TO_ENDOPLASMIC_RETICULUM_STRESS</text>
<text x="97.30" y="347.70" font-size="5.0" fill="#333" textLength="19.00" lengthAdjust="spacingAndGlyphs">FDR &lt;0.01</text>
<text x="97.30" y="353.00" font-size="5.0" fill="#333" textLength="14.00" lengthAdjust="spacingAndGlyphs"><tspan font-style="italic">P</tspan> &lt;0.01</text>
<text x="27.17" y="356.10" font-size="6.3" text-anchor="middle" fill="#3d3d3d" textLength="26.20" lengthAdjust="spacingAndGlyphs" transform="rotate(-90 27.17 356.10)">Enrichment</text>
<text x="35.97" y="355.75" font-size="6.3" text-anchor="middle" fill="#3d3d3d" textLength="21.10" lengthAdjust="spacingAndGlyphs" transform="rotate(-90 35.97 355.75)">score (ES)</text>
<text x="33.37" y="397.20" font-size="6.3" text-anchor="middle" fill="#3d3d3d" textLength="41.40" lengthAdjust="spacingAndGlyphs" transform="rotate(-90 33.37 397.20)">Ranked list metric</text>
<text x="41.37" y="397.20" font-size="6.3" text-anchor="middle" fill="#3d3d3d" textLength="34.20" lengthAdjust="spacingAndGlyphs" transform="rotate(-90 41.37 397.20)">(signal2Noise)</text>
<text x="54.30" y="390.74" font-size="4.0" fill="#cf2e2e" textLength="18.80" lengthAdjust="spacingAndGlyphs">NSC12 (5μM)</text>
<text x="54.30" y="394.54" font-size="4.0" fill="#cf2e2e" textLength="30.40" lengthAdjust="spacingAndGlyphs">(positively correlated)</text>
<text x="69.70" y="397.94" font-size="4.0" fill="#222" textLength="27.00" lengthAdjust="spacingAndGlyphs">Zero cross at 8153</text>
<text x="95.20" y="403.24" font-size="4.0" fill="#4b40b0" textLength="18.80" lengthAdjust="spacingAndGlyphs">NSC12 (5μM)</text>
<text x="95.20" y="406.44" font-size="4.0" fill="#4b40b0" textLength="32.50" lengthAdjust="spacingAndGlyphs">(negatively correlated)</text>
<line x1="193.30" y1="341.60" x2="193.30" y2="373.80" stroke="#ececec" stroke-width="0.6" />
<line x1="193.30" y1="386.40" x2="193.30" y2="407.40" stroke="#ececec" stroke-width="0.6" />
<line x1="212.30" y1="341.60" x2="212.30" y2="373.80" stroke="#ececec" stroke-width="0.6" />
<line x1="212.30" y1="386.40" x2="212.30" y2="407.40" stroke="#ececec" stroke-width="0.6" />
<line x1="231.30" y1="341.60" x2="231.30" y2="373.80" stroke="#ececec" stroke-width="0.6" />
<line x1="231.30" y1="386.40" x2="231.30" y2="407.40" stroke="#ececec" stroke-width="0.6" />
<line x1="250.30" y1="341.60" x2="250.30" y2="373.80" stroke="#ececec" stroke-width="0.6" />
<line x1="250.30" y1="386.40" x2="250.30" y2="407.40" stroke="#ececec" stroke-width="0.6" />
<line x1="174.30" y1="342.90" x2="255.30" y2="342.90" stroke="#efefef" stroke-width="0.6" />
<line x1="174.30" y1="348.00" x2="255.30" y2="348.00" stroke="#efefef" stroke-width="0.6" />
<line x1="174.30" y1="353.10" x2="255.30" y2="353.10" stroke="#efefef" stroke-width="0.6" />
<line x1="174.30" y1="358.20" x2="255.30" y2="358.20" stroke="#efefef" stroke-width="0.6" />
<line x1="174.30" y1="363.30" x2="255.30" y2="363.30" stroke="#efefef" stroke-width="0.6" />
<line x1="174.30" y1="373.50" x2="255.30" y2="373.50" stroke="#efefef" stroke-width="0.6" />
<line x1="174.30" y1="368.40" x2="255.30" y2="368.40" stroke="#d8d8d8" stroke-width="1.0" />
<rect x="175.00" y="373.80" width="76.50" height="9.70" fill="rgba(0,0,0,0.12)" />
<line x1="176.30" y1="373.80" x2="176.30" y2="383.50" stroke="rgba(0,0,0,0.50)" stroke-width="1.00" />
<line x1="178.50" y1="373.80" x2="178.50" y2="383.50" stroke="rgba(0,0,0,0.48)" stroke-width="1.00" />
<line x1="180.70" y1="373.80" x2="180.70" y2="383.50" stroke="rgba(0,0,0,0.50)" stroke-width="1.00" />
<line x1="183.20" y1="373.80" x2="183.20" y2="383.50" stroke="rgba(0,0,0,0.44)" stroke-width="1.00" />
<line x1="187.10" y1="373.80" x2="187.10" y2="383.50" stroke="rgba(0,0,0,0.34)" stroke-width="1.50" />
<line x1="194.10" y1="373.80" x2="194.10" y2="383.50" stroke="rgba(0,0,0,0.55)" stroke-width="1.00" />
<line x1="198.80" y1="373.80" x2="198.80" y2="383.50" stroke="rgba(0,0,0,0.32)" stroke-width="1.50" />
<line x1="201.80" y1="373.80" x2="201.80" y2="383.50" stroke="rgba(0,0,0,0.27)" stroke-width="1.50" />
<line x1="205.30" y1="373.80" x2="205.30" y2="383.50" stroke="rgba(0,0,0,0.49)" stroke-width="1.00" />
<line x1="211.80" y1="373.80" x2="211.80" y2="383.50" stroke="rgba(0,0,0,0.46)" stroke-width="1.20" />
<line x1="213.60" y1="373.80" x2="213.60" y2="383.50" stroke="rgba(0,0,0,0.28)" stroke-width="1.50" />
<line x1="215.00" y1="373.80" x2="215.00" y2="383.50" stroke="rgba(0,0,0,0.57)" stroke-width="1.20" />
<line x1="221.70" y1="373.80" x2="221.70" y2="383.50" stroke="rgba(0,0,0,0.58)" stroke-width="1.00" />
<line x1="226.40" y1="373.80" x2="226.40" y2="383.50" stroke="rgba(0,0,0,0.25)" stroke-width="1.50" />
<line x1="230.30" y1="373.80" x2="230.30" y2="383.50" stroke="rgba(0,0,0,0.55)" stroke-width="1.00" />
<line x1="233.80" y1="373.80" x2="233.80" y2="383.50" stroke="rgba(0,0,0,0.51)" stroke-width="1.00" />
<line x1="238.70" y1="373.80" x2="238.70" y2="383.50" stroke="rgba(0,0,0,0.29)" stroke-width="2.50" />
<line x1="245.90" y1="373.80" x2="245.90" y2="383.50" stroke="rgba(0,0,0,0.45)" stroke-width="1.00" />
<line x1="250.60" y1="373.80" x2="250.60" y2="383.50" stroke="rgba(0,0,0,0.52)" stroke-width="1.00" />
<rect x="175.10" y="384.20" width="10.60" height="2.20" fill="#cc2c30" />
<rect x="185.70" y="384.20" width="11.40" height="2.20" fill="#d9545c" />
<rect x="197.10" y="384.20" width="8.20" height="2.20" fill="#e3a3c4" />
<rect x="205.30" y="384.20" width="10.35" height="2.20" fill="#d6d3f0" />
<rect x="215.65" y="384.20" width="10.35" height="2.20" fill="#c3c3ea" />
<rect x="226.00" y="384.20" width="7.30" height="2.20" fill="#7676c4" />
<rect x="233.30" y="384.20" width="8.90" height="2.20" fill="#3c3c9c" />
<rect x="242.20" y="384.20" width="8.90" height="2.20" fill="#262688" />
<path d="M174.90,396.30 L174.90,393.30 L178.53,393.82 L182.15,394.29 L185.78,394.71 L189.40,395.07 L193.03,395.38 L196.65,395.65 L200.28,395.86 L203.90,396.03 L207.53,396.16 L211.15,396.24 L214.78,396.29 L218.40,396.30 L220.98,396.87 L223.57,397.39 L226.15,397.91 L228.73,398.41 L231.32,398.91 L233.90,399.41 L236.48,399.90 L239.07,400.38 L241.65,400.87 L244.23,401.35 L246.82,401.82 L249.40,402.30 L251.90,404.80 L251.90,396.30 Z" fill="#c4c4c4" stroke="none"/>
<line x1="175.00" y1="396.30" x2="254.60" y2="396.30" stroke="#9a9a9a" stroke-width="0.5" />
<rect x="174.30" y="340.60" width="81.00" height="66.80" fill="none" stroke="#161616" stroke-width="1.4"/>
<polyline points="175.00,351.90 175.80,344.50 177.50,343.40 178.50,343.80 179.60,344.00 180.60,343.50 181.70,343.40 183.30,344.20 184.90,344.90 186.50,344.40 188.10,344.50 192.30,346.60 197.60,349.80 202.90,352.90 208.00,355.50 213.50,358.20 219.00,361.00 224.00,363.50 230.40,366.30 234.60,367.70 237.80,368.80 239.50,367.80 241.00,367.30 243.10,368.80 245.20,369.80 247.30,368.40 249.40,370.50 250.30,369.00 251.10,367.70" fill="none" stroke="#72bf3a" stroke-width="1.3" stroke-linejoin="round"/>
<line x1="171.30" y1="342.90" x2="174.30" y2="342.90" stroke="#1a1a1a" stroke-width="1.0" />
<text x="168.50" y="344.52" font-size="4.5" text-anchor="end" fill="#333">0.5</text>
<line x1="171.30" y1="348.00" x2="174.30" y2="348.00" stroke="#1a1a1a" stroke-width="1.0" />
<text x="168.50" y="349.62" font-size="4.5" text-anchor="end" fill="#333">0.4</text>
<line x1="171.30" y1="353.10" x2="174.30" y2="353.10" stroke="#1a1a1a" stroke-width="1.0" />
<text x="168.50" y="354.72" font-size="4.5" text-anchor="end" fill="#333">0.3</text>
<line x1="171.30" y1="358.20" x2="174.30" y2="358.20" stroke="#1a1a1a" stroke-width="1.0" />
<text x="168.50" y="359.82" font-size="4.5" text-anchor="end" fill="#333">0.2</text>
<line x1="171.30" y1="363.30" x2="174.30" y2="363.30" stroke="#1a1a1a" stroke-width="1.0" />
<text x="168.50" y="364.92" font-size="4.5" text-anchor="end" fill="#333">0.1</text>
<line x1="171.30" y1="368.40" x2="174.30" y2="368.40" stroke="#1a1a1a" stroke-width="1.0" />
<text x="168.50" y="370.02" font-size="4.5" text-anchor="end" fill="#333">0.0</text>
<line x1="171.30" y1="373.50" x2="174.30" y2="373.50" stroke="#1a1a1a" stroke-width="1.0" />
<text x="168.50" y="375.12" font-size="4.5" text-anchor="end" fill="#333">-0.1</text>
<text x="171.30" y="387.00" font-size="3.6" text-anchor="middle" fill="#474747" textLength="2.40" lengthAdjust="spacingAndGlyphs" transform="rotate(-90 171.30 387.00)">4</text>
<text x="171.30" y="391.00" font-size="3.6" text-anchor="middle" fill="#474747" textLength="2.40" lengthAdjust="spacingAndGlyphs" transform="rotate(-90 171.30 391.00)">2</text>
<text x="171.30" y="395.40" font-size="3.6" text-anchor="middle" fill="#474747" textLength="2.40" lengthAdjust="spacingAndGlyphs" transform="rotate(-90 171.30 395.40)">0</text>
<text x="171.30" y="400.20" font-size="3.6" text-anchor="middle" fill="#474747" textLength="4.00" lengthAdjust="spacingAndGlyphs" transform="rotate(-90 171.30 400.20)">-2</text>
<text x="171.30" y="406.00" font-size="3.6" text-anchor="middle" fill="#474747" textLength="4.00" lengthAdjust="spacingAndGlyphs" transform="rotate(-90 171.30 406.00)">-4</text>
<line x1="174.30" y1="407.40" x2="174.30" y2="409.60" stroke="#222" stroke-width="0.9" />
<text x="174.30" y="418.04" font-size="5.4" text-anchor="middle" fill="#474747" textLength="2.80" lengthAdjust="spacingAndGlyphs">0</text>
<line x1="193.30" y1="407.40" x2="193.30" y2="409.60" stroke="#222" stroke-width="0.9" />
<text x="193.30" y="418.04" font-size="5.4" text-anchor="middle" fill="#474747" textLength="11.00" lengthAdjust="spacingAndGlyphs">5,000</text>
<line x1="212.30" y1="407.40" x2="212.30" y2="409.60" stroke="#222" stroke-width="0.9" />
<text x="212.30" y="418.04" font-size="5.4" text-anchor="middle" fill="#474747" textLength="13.40" lengthAdjust="spacingAndGlyphs">10,000</text>
<line x1="231.30" y1="407.40" x2="231.30" y2="409.60" stroke="#222" stroke-width="0.9" />
<text x="231.30" y="418.04" font-size="5.4" text-anchor="middle" fill="#474747" textLength="13.20" lengthAdjust="spacingAndGlyphs">15,000</text>
<line x1="250.30" y1="407.40" x2="250.30" y2="409.60" stroke="#222" stroke-width="0.9" />
<text x="250.30" y="418.04" font-size="5.4" text-anchor="middle" fill="#474747" textLength="13.00" lengthAdjust="spacingAndGlyphs">20,000</text>
<text x="190.50" y="427.48" font-size="6.9" fill="#333" textLength="52.90" lengthAdjust="spacingAndGlyphs">Rank in ordered dataset</text>
<line x1="145.80" y1="434.00" x2="148.70" y2="434.00" stroke="#72bf3a" stroke-width="1.0" />
<text x="151.80" y="435.91" font-size="5.3" fill="#474747" textLength="34.90" lengthAdjust="spacingAndGlyphs">Enrichment profile</text>
<line x1="191.00" y1="434.00" x2="193.40" y2="434.00" stroke="#777" stroke-width="0.8" />
<text x="195.80" y="435.91" font-size="5.3" fill="#474747" textLength="7.70" lengthAdjust="spacingAndGlyphs">Hits</text>
<line x1="208.30" y1="434.00" x2="210.80" y2="434.00" stroke="#bbb" stroke-width="0.8" />
<text x="216.70" y="435.91" font-size="5.3" fill="#474747" textLength="42.10" lengthAdjust="spacingAndGlyphs">Ranking metric scores</text>
<text x="213.80" y="322.37" font-size="5.2" text-anchor="middle" fill="#3a3a3a" textLength="32.50" lengthAdjust="spacingAndGlyphs">Enrichment plot:</text>
<text x="213.80" y="327.37" font-size="5.2" text-anchor="middle" fill="#3a3a3a" textLength="63.00" lengthAdjust="spacingAndGlyphs">GO_POSITIVE_REGULATION_OF_</text>
<text x="213.80" y="332.37" font-size="5.2" text-anchor="middle" fill="#3a3a3a" textLength="62.50" lengthAdjust="spacingAndGlyphs">RESPONSE_TO_ENDOPLASMIC_</text>
<text x="213.80" y="337.37" font-size="5.2" text-anchor="middle" fill="#3a3a3a" textLength="40.00" lengthAdjust="spacingAndGlyphs">RETICULUM_STRESS</text>
<text x="221.90" y="348.80" font-size="5.0" fill="#333" textLength="19.00" lengthAdjust="spacingAndGlyphs">FDR &lt;0.01</text>
<text x="221.90" y="354.10" font-size="5.0" fill="#333" textLength="14.00" lengthAdjust="spacingAndGlyphs"><tspan font-style="italic">P</tspan> &lt;0.01</text>
<text x="148.47" y="356.10" font-size="6.3" text-anchor="middle" fill="#3d3d3d" textLength="26.20" lengthAdjust="spacingAndGlyphs" transform="rotate(-90 148.47 356.10)">Enrichment</text>
<text x="157.27" y="356.10" font-size="6.3" text-anchor="middle" fill="#3d3d3d" textLength="21.80" lengthAdjust="spacingAndGlyphs" transform="rotate(-90 157.27 356.10)">score (ES)</text>
<text x="154.67" y="397.20" font-size="6.3" text-anchor="middle" fill="#3d3d3d" textLength="41.40" lengthAdjust="spacingAndGlyphs" transform="rotate(-90 154.67 397.20)">Ranked list metric</text>
<text x="162.67" y="397.20" font-size="6.3" text-anchor="middle" fill="#3d3d3d" textLength="34.20" lengthAdjust="spacingAndGlyphs" transform="rotate(-90 162.67 397.20)">(signal2Noise)</text>
<text x="175.70" y="390.24" font-size="4.0" fill="#cf2e2e" textLength="18.80" lengthAdjust="spacingAndGlyphs">NSC12 (5μM)</text>
<text x="175.70" y="394.64" font-size="4.0" fill="#cf2e2e" textLength="30.40" lengthAdjust="spacingAndGlyphs">(positively correlated)</text>
<text x="191.40" y="397.94" font-size="4.0" fill="#222" textLength="27.00" lengthAdjust="spacingAndGlyphs">Zero cross at 8153</text>
<text x="216.40" y="403.04" font-size="4.0" fill="#4b40b0" textLength="18.80" lengthAdjust="spacingAndGlyphs">NSC12 (5μM)</text>
<text x="216.40" y="406.14" font-size="4.0" fill="#4b40b0" textLength="32.50" lengthAdjust="spacingAndGlyphs">(negatively correlated)</text>
<line x1="329.55" y1="341.20" x2="329.55" y2="373.30" stroke="#ececec" stroke-width="0.6" />
<line x1="329.55" y1="386.30" x2="329.55" y2="407.40" stroke="#ececec" stroke-width="0.6" />
<line x1="348.80" y1="341.20" x2="348.80" y2="373.30" stroke="#ececec" stroke-width="0.6" />
<line x1="348.80" y1="386.30" x2="348.80" y2="407.40" stroke="#ececec" stroke-width="0.6" />
<line x1="368.05" y1="341.20" x2="368.05" y2="373.30" stroke="#ececec" stroke-width="0.6" />
<line x1="368.05" y1="386.30" x2="368.05" y2="407.40" stroke="#ececec" stroke-width="0.6" />
<line x1="387.30" y1="341.20" x2="387.30" y2="373.30" stroke="#ececec" stroke-width="0.6" />
<line x1="387.30" y1="386.30" x2="387.30" y2="407.40" stroke="#ececec" stroke-width="0.6" />
<line x1="310.30" y1="344.21" x2="392.50" y2="344.21" stroke="#efefef" stroke-width="0.6" />
<line x1="310.30" y1="348.18" x2="392.50" y2="348.18" stroke="#efefef" stroke-width="0.6" />
<line x1="310.30" y1="352.15" x2="392.50" y2="352.15" stroke="#efefef" stroke-width="0.6" />
<line x1="310.30" y1="356.12" x2="392.50" y2="356.12" stroke="#efefef" stroke-width="0.6" />
<line x1="310.30" y1="360.09" x2="392.50" y2="360.09" stroke="#efefef" stroke-width="0.6" />
<line x1="310.30" y1="364.06" x2="392.50" y2="364.06" stroke="#efefef" stroke-width="0.6" />
<line x1="310.30" y1="368.03" x2="392.50" y2="368.03" stroke="#efefef" stroke-width="0.6" />
<line x1="310.30" y1="372.00" x2="392.50" y2="372.00" stroke="#d8d8d8" stroke-width="1.0" />
<rect x="310.30" y="370.40" width="82.20" height="2.80" fill="#ececec" />
<line x1="313.10" y1="373.30" x2="313.10" y2="383.60" stroke="rgba(0,0,0,0.30)" stroke-width="2.00" />
<line x1="318.80" y1="373.30" x2="318.80" y2="383.60" stroke="rgba(0,0,0,0.50)" stroke-width="1.00" />
<line x1="324.90" y1="373.30" x2="324.90" y2="383.60" stroke="rgba(0,0,0,0.35)" stroke-width="1.50" />
<line x1="330.90" y1="373.30" x2="330.90" y2="383.60" stroke="rgba(0,0,0,0.30)" stroke-width="1.50" />
<line x1="335.20" y1="373.30" x2="335.20" y2="383.60" stroke="rgba(0,0,0,0.49)" stroke-width="1.00" />
<line x1="338.50" y1="373.30" x2="338.50" y2="383.60" stroke="rgba(0,0,0,0.31)" stroke-width="2.00" />
<line x1="352.60" y1="373.30" x2="352.60" y2="383.60" stroke="rgba(0,0,0,0.43)" stroke-width="1.00" />
<line x1="367.60" y1="373.30" x2="367.60" y2="383.60" stroke="rgba(0,0,0,0.31)" stroke-width="1.50" />
<line x1="370.80" y1="373.30" x2="370.80" y2="383.60" stroke="rgba(0,0,0,0.32)" stroke-width="1.50" />
<line x1="374.40" y1="373.30" x2="374.40" y2="383.60" stroke="rgba(0,0,0,0.54)" stroke-width="1.00" />
<line x1="376.00" y1="373.30" x2="376.00" y2="383.60" stroke="rgba(0,0,0,0.42)" stroke-width="1.00" />
<rect x="311.10" y="384.20" width="10.80" height="2.10" fill="#cc2c30" />
<rect x="321.90" y="384.20" width="11.60" height="2.10" fill="#d9545c" />
<rect x="333.50" y="384.20" width="8.20" height="2.10" fill="#e3a3c4" />
<rect x="341.70" y="384.20" width="10.65" height="2.10" fill="#d6d3f0" />
<rect x="352.35" y="384.20" width="10.65" height="2.10" fill="#c3c3ea" />
<rect x="363.00" y="384.20" width="7.80" height="2.10" fill="#7676c4" />
<rect x="370.80" y="384.20" width="9.05" height="2.10" fill="#3c3c9c" />
<rect x="379.85" y="384.20" width="9.05" height="2.10" fill="#262688" />
<path d="M310.90,396.30 L310.90,393.30 L314.48,393.82 L318.07,394.29 L321.65,394.71 L325.23,395.07 L328.82,395.38 L332.40,395.65 L335.98,395.86 L339.57,396.03 L343.15,396.16 L346.73,396.24 L350.32,396.29 L353.90,396.30 L356.67,396.87 L359.45,397.39 L362.22,397.91 L365.00,398.41 L367.77,398.91 L370.55,399.41 L373.32,399.90 L376.10,400.38 L378.88,400.87 L381.65,401.35 L384.43,401.82 L387.20,402.30 L389.70,404.80 L389.70,396.30 Z" fill="#c4c4c4" stroke="none"/>
<line x1="311.00" y1="396.30" x2="391.80" y2="396.30" stroke="#9a9a9a" stroke-width="0.5" />
<rect x="310.30" y="340.20" width="82.20" height="67.20" fill="none" stroke="#161616" stroke-width="1.4"/>
<polyline points="310.70,347.60 311.80,344.50 312.80,342.30 314.30,341.30 315.80,342.80 317.50,343.40 320.50,344.40 323.80,345.50 327.00,346.90 330.20,348.30 336.50,351.20 342.90,354.00 348.00,356.40 353.50,358.80 358.50,360.90 364.00,363.10 365.50,364.00 367.20,364.60 369.30,364.60 371.00,365.20 372.50,365.60 374.60,366.70 376.70,365.60 382.00,368.20 388.40,370.90" fill="none" stroke="#72bf3a" stroke-width="1.3" stroke-linejoin="round"/>
<line x1="307.30" y1="340.24" x2="310.30" y2="340.24" stroke="#1a1a1a" stroke-width="1.0" />
<text x="304.50" y="341.86" font-size="4.5" text-anchor="end" fill="#333">0.8</text>
<line x1="307.30" y1="344.21" x2="310.30" y2="344.21" stroke="#1a1a1a" stroke-width="1.0" />
<text x="304.50" y="345.83" font-size="4.5" text-anchor="end" fill="#333">0.7</text>
<line x1="307.30" y1="348.18" x2="310.30" y2="348.18" stroke="#1a1a1a" stroke-width="1.0" />
<text x="304.50" y="349.80" font-size="4.5" text-anchor="end" fill="#333">0.6</text>
<line x1="307.30" y1="352.15" x2="310.30" y2="352.15" stroke="#1a1a1a" stroke-width="1.0" />
<text x="304.50" y="353.77" font-size="4.5" text-anchor="end" fill="#333">0.5</text>
<line x1="307.30" y1="356.12" x2="310.30" y2="356.12" stroke="#1a1a1a" stroke-width="1.0" />
<text x="304.50" y="357.74" font-size="4.5" text-anchor="end" fill="#333">0.4</text>
<line x1="307.30" y1="360.09" x2="310.30" y2="360.09" stroke="#1a1a1a" stroke-width="1.0" />
<text x="304.50" y="361.71" font-size="4.5" text-anchor="end" fill="#333">0.3</text>
<line x1="307.30" y1="364.06" x2="310.30" y2="364.06" stroke="#1a1a1a" stroke-width="1.0" />
<text x="304.50" y="365.68" font-size="4.5" text-anchor="end" fill="#333">0.2</text>
<line x1="307.30" y1="368.03" x2="310.30" y2="368.03" stroke="#1a1a1a" stroke-width="1.0" />
<text x="304.50" y="369.65" font-size="4.5" text-anchor="end" fill="#333">0.1</text>
<line x1="307.30" y1="372.00" x2="310.30" y2="372.00" stroke="#1a1a1a" stroke-width="1.0" />
<text x="304.50" y="373.62" font-size="4.5" text-anchor="end" fill="#333">0.0</text>
<text x="306.80" y="387.60" font-size="3.6" text-anchor="middle" fill="#474747" textLength="2.40" lengthAdjust="spacingAndGlyphs" transform="rotate(-90 306.80 387.60)">4</text>
<text x="306.80" y="391.60" font-size="3.6" text-anchor="middle" fill="#474747" textLength="2.40" lengthAdjust="spacingAndGlyphs" transform="rotate(-90 306.80 391.60)">2</text>
<text x="306.80" y="395.80" font-size="3.6" text-anchor="middle" fill="#474747" textLength="2.40" lengthAdjust="spacingAndGlyphs" transform="rotate(-90 306.80 395.80)">0</text>
<text x="306.80" y="400.60" font-size="3.6" text-anchor="middle" fill="#474747" textLength="4.00" lengthAdjust="spacingAndGlyphs" transform="rotate(-90 306.80 400.60)">-2</text>
<text x="306.80" y="406.00" font-size="3.6" text-anchor="middle" fill="#474747" textLength="4.00" lengthAdjust="spacingAndGlyphs" transform="rotate(-90 306.80 406.00)">-4</text>
<line x1="310.30" y1="407.40" x2="310.30" y2="409.60" stroke="#222" stroke-width="0.9" />
<text x="310.30" y="417.74" font-size="5.4" text-anchor="middle" fill="#474747" textLength="2.80" lengthAdjust="spacingAndGlyphs">0</text>
<line x1="329.55" y1="407.40" x2="329.55" y2="409.60" stroke="#222" stroke-width="0.9" />
<text x="329.55" y="417.74" font-size="5.4" text-anchor="middle" fill="#474747" textLength="11.00" lengthAdjust="spacingAndGlyphs">5,000</text>
<line x1="348.80" y1="407.40" x2="348.80" y2="409.60" stroke="#222" stroke-width="0.9" />
<text x="348.80" y="417.74" font-size="5.4" text-anchor="middle" fill="#474747" textLength="13.40" lengthAdjust="spacingAndGlyphs">10,000</text>
<line x1="368.05" y1="407.40" x2="368.05" y2="409.60" stroke="#222" stroke-width="0.9" />
<text x="368.05" y="417.74" font-size="5.4" text-anchor="middle" fill="#474747" textLength="13.20" lengthAdjust="spacingAndGlyphs">15,000</text>
<line x1="387.30" y1="407.40" x2="387.30" y2="409.60" stroke="#222" stroke-width="0.9" />
<text x="387.30" y="417.74" font-size="5.4" text-anchor="middle" fill="#474747" textLength="13.00" lengthAdjust="spacingAndGlyphs">20,000</text>
<text x="324.70" y="427.48" font-size="6.9" fill="#333" textLength="52.90" lengthAdjust="spacingAndGlyphs">Rank in ordered dataset</text>
<line x1="282.50" y1="434.00" x2="285.40" y2="434.00" stroke="#72bf3a" stroke-width="1.0" />
<text x="288.50" y="435.91" font-size="5.3" fill="#474747" textLength="34.90" lengthAdjust="spacingAndGlyphs">Enrichment profile</text>
<line x1="327.70" y1="434.00" x2="330.10" y2="434.00" stroke="#777" stroke-width="0.8" />
<text x="332.50" y="435.91" font-size="5.3" fill="#474747" textLength="7.70" lengthAdjust="spacingAndGlyphs">Hits</text>
<line x1="345.00" y1="434.00" x2="347.50" y2="434.00" stroke="#bbb" stroke-width="0.8" />
<text x="353.40" y="435.91" font-size="5.3" fill="#474747" textLength="42.10" lengthAdjust="spacingAndGlyphs">Ranking metric scores</text>
<text x="351.30" y="326.87" font-size="5.2" text-anchor="middle" fill="#3a3a3a" textLength="32.50" lengthAdjust="spacingAndGlyphs">Enrichment plot:</text>
<text x="351.30" y="331.87" font-size="5.2" text-anchor="middle" fill="#3a3a3a" textLength="71.00" lengthAdjust="spacingAndGlyphs">GO_PERK_MEDIATED_UNFOLDED_</text>
<text x="351.30" y="336.87" font-size="5.2" text-anchor="middle" fill="#3a3a3a" textLength="45.00" lengthAdjust="spacingAndGlyphs">PROTEIN_RESPONSE</text>
<text x="363.00" y="348.40" font-size="5.0" fill="#333" textLength="19.00" lengthAdjust="spacingAndGlyphs">FDR &lt;0.01</text>
<text x="363.00" y="353.40" font-size="5.0" fill="#333" textLength="14.00" lengthAdjust="spacingAndGlyphs"><tspan font-style="italic">P</tspan> &lt;0.01</text>
<text x="285.97" y="356.10" font-size="6.3" text-anchor="middle" fill="#3d3d3d" textLength="26.20" lengthAdjust="spacingAndGlyphs" transform="rotate(-90 285.97 356.10)">Enrichment</text>
<text x="294.77" y="356.10" font-size="6.3" text-anchor="middle" fill="#3d3d3d" textLength="21.80" lengthAdjust="spacingAndGlyphs" transform="rotate(-90 294.77 356.10)">score (ES)</text>
<text x="291.07" y="397.20" font-size="6.3" text-anchor="middle" fill="#3d3d3d" textLength="41.40" lengthAdjust="spacingAndGlyphs" transform="rotate(-90 291.07 397.20)">Ranked list metric</text>
<text x="299.07" y="397.20" font-size="6.3" text-anchor="middle" fill="#3d3d3d" textLength="34.20" lengthAdjust="spacingAndGlyphs" transform="rotate(-90 299.07 397.20)">(signal2Noise)</text>
<text x="312.00" y="390.24" font-size="4.0" fill="#cf2e2e" textLength="18.80" lengthAdjust="spacingAndGlyphs">NSC12 (5μM)</text>
<text x="312.00" y="394.64" font-size="4.0" fill="#cf2e2e" textLength="30.40" lengthAdjust="spacingAndGlyphs">(positively correlated)</text>
<text x="326.90" y="397.94" font-size="4.0" fill="#222" textLength="27.00" lengthAdjust="spacingAndGlyphs">Zero cross at 8153</text>
<text x="352.20" y="403.04" font-size="4.0" fill="#4b40b0" textLength="18.80" lengthAdjust="spacingAndGlyphs">NSC12 (5μM)</text>
<text x="352.20" y="406.14" font-size="4.0" fill="#4b40b0" textLength="32.50" lengthAdjust="spacingAndGlyphs">(negatively correlated)</text>
<line x1="447.52" y1="342.40" x2="447.52" y2="373.20" stroke="#ececec" stroke-width="0.6" />
<line x1="447.52" y1="386.70" x2="447.52" y2="407.40" stroke="#ececec" stroke-width="0.6" />
<line x1="466.55" y1="342.40" x2="466.55" y2="373.20" stroke="#ececec" stroke-width="0.6" />
<line x1="466.55" y1="386.70" x2="466.55" y2="407.40" stroke="#ececec" stroke-width="0.6" />
<line x1="485.57" y1="342.40" x2="485.57" y2="373.20" stroke="#ececec" stroke-width="0.6" />
<line x1="485.57" y1="386.70" x2="485.57" y2="407.40" stroke="#ececec" stroke-width="0.6" />
<line x1="504.60" y1="342.40" x2="504.60" y2="373.20" stroke="#ececec" stroke-width="0.6" />
<line x1="504.60" y1="386.70" x2="504.60" y2="407.40" stroke="#ececec" stroke-width="0.6" />
<line x1="428.40" y1="345.42" x2="510.10" y2="345.42" stroke="#efefef" stroke-width="0.6" />
<line x1="428.40" y1="349.75" x2="510.10" y2="349.75" stroke="#efefef" stroke-width="0.6" />
<line x1="428.40" y1="354.08" x2="510.10" y2="354.08" stroke="#efefef" stroke-width="0.6" />
<line x1="428.40" y1="358.41" x2="510.10" y2="358.41" stroke="#efefef" stroke-width="0.6" />
<line x1="428.40" y1="362.74" x2="510.10" y2="362.74" stroke="#efefef" stroke-width="0.6" />
<line x1="428.40" y1="367.07" x2="510.10" y2="367.07" stroke="#efefef" stroke-width="0.6" />
<line x1="428.40" y1="371.40" x2="510.10" y2="371.40" stroke="#d8d8d8" stroke-width="1.0" />
<rect x="428.40" y="370.60" width="81.70" height="2.60" fill="#ececec" />
<line x1="432.10" y1="373.20" x2="432.10" y2="383.90" stroke="rgba(0,0,0,0.30)" stroke-width="1.50" />
<line x1="442.40" y1="373.20" x2="442.40" y2="383.90" stroke="rgba(0,0,0,0.52)" stroke-width="1.00" />
<line x1="448.50" y1="373.20" x2="448.50" y2="383.90" stroke="rgba(0,0,0,0.32)" stroke-width="1.50" />
<line x1="455.40" y1="373.20" x2="455.40" y2="383.90" stroke="rgba(0,0,0,0.43)" stroke-width="1.00" />
<line x1="457.60" y1="373.20" x2="457.60" y2="383.90" stroke="rgba(0,0,0,0.40)" stroke-width="1.00" />
<line x1="470.60" y1="373.20" x2="470.60" y2="383.90" stroke="rgba(0,0,0,0.29)" stroke-width="2.50" />
<line x1="485.20" y1="373.20" x2="485.20" y2="383.90" stroke="rgba(0,0,0,0.45)" stroke-width="1.20" />
<line x1="487.80" y1="373.20" x2="487.80" y2="383.90" stroke="rgba(0,0,0,0.55)" stroke-width="1.20" />
<line x1="492.30" y1="373.20" x2="492.30" y2="383.90" stroke="rgba(0,0,0,0.52)" stroke-width="1.20" />
<line x1="494.50" y1="373.20" x2="494.50" y2="383.90" stroke="rgba(0,0,0,0.51)" stroke-width="1.20" />
<rect x="429.20" y="384.40" width="10.55" height="2.30" fill="#cc2c30" />
<rect x="439.75" y="384.40" width="11.35" height="2.30" fill="#d9545c" />
<rect x="451.10" y="384.40" width="7.80" height="2.30" fill="#e3a3c4" />
<rect x="458.90" y="384.40" width="10.45" height="2.30" fill="#d6d3f0" />
<rect x="469.35" y="384.40" width="10.45" height="2.30" fill="#c3c3ea" />
<rect x="479.80" y="384.40" width="7.80" height="2.30" fill="#7676c4" />
<rect x="487.60" y="384.40" width="9.10" height="2.30" fill="#3c3c9c" />
<rect x="496.70" y="384.40" width="9.10" height="2.30" fill="#262688" />
<path d="M429.00,396.30 L429.00,393.30 L432.57,393.82 L436.15,394.29 L439.73,394.71 L443.30,395.07 L446.88,395.38 L450.45,395.65 L454.02,395.86 L457.60,396.03 L461.18,396.16 L464.75,396.24 L468.32,396.29 L471.90,396.30 L474.58,396.87 L477.27,397.39 L479.95,397.91 L482.63,398.41 L485.32,398.91 L488.00,399.41 L490.68,399.90 L493.37,400.38 L496.05,400.87 L498.73,401.35 L501.42,401.82 L504.10,402.30 L506.60,404.80 L506.60,396.30 Z" fill="#c4c4c4" stroke="none"/>
<line x1="429.10" y1="396.30" x2="509.40" y2="396.30" stroke="#9a9a9a" stroke-width="0.5" />
<rect x="428.40" y="341.40" width="81.70" height="66.00" fill="none" stroke="#161616" stroke-width="1.4"/>
<polyline points="428.80,348.60 429.20,343.80 431.40,345.40 432.90,342.80 435.20,344.30 439.20,346.80 445.00,349.40 448.10,350.80 453.50,353.50 458.70,356.10 464.00,358.80 469.20,361.40 472.40,362.40 475.60,363.50 479.50,365.60 483.00,367.70 485.10,368.80 487.20,367.70 488.70,368.40 490.40,368.80 492.00,367.80 493.60,366.70 495.70,365.60 497.80,367.30 502.00,369.40 506.30,371.50" fill="none" stroke="#72bf3a" stroke-width="1.3" stroke-linejoin="round"/>
<line x1="425.40" y1="345.42" x2="428.40" y2="345.42" stroke="#1a1a1a" stroke-width="1.0" />
<text x="422.80" y="347.04" font-size="4.5" text-anchor="end" fill="#333">0.6</text>
<line x1="425.40" y1="349.75" x2="428.40" y2="349.75" stroke="#1a1a1a" stroke-width="1.0" />
<text x="422.80" y="351.37" font-size="4.5" text-anchor="end" fill="#333">0.5</text>
<line x1="425.40" y1="354.08" x2="428.40" y2="354.08" stroke="#1a1a1a" stroke-width="1.0" />
<text x="422.80" y="355.70" font-size="4.5" text-anchor="end" fill="#333">0.4</text>
<line x1="425.40" y1="358.41" x2="428.40" y2="358.41" stroke="#1a1a1a" stroke-width="1.0" />
<text x="422.80" y="360.03" font-size="4.5" text-anchor="end" fill="#333">0.3</text>
<line x1="425.40" y1="362.74" x2="428.40" y2="362.74" stroke="#1a1a1a" stroke-width="1.0" />
<text x="422.80" y="364.36" font-size="4.5" text-anchor="end" fill="#333">0.2</text>
<line x1="425.40" y1="367.07" x2="428.40" y2="367.07" stroke="#1a1a1a" stroke-width="1.0" />
<text x="422.80" y="368.69" font-size="4.5" text-anchor="end" fill="#333">0.1</text>
<line x1="425.40" y1="371.40" x2="428.40" y2="371.40" stroke="#1a1a1a" stroke-width="1.0" />
<text x="422.80" y="373.02" font-size="4.5" text-anchor="end" fill="#333">0.0</text>
<text x="424.80" y="387.60" font-size="3.6" text-anchor="middle" fill="#474747" textLength="2.40" lengthAdjust="spacingAndGlyphs" transform="rotate(-90 424.80 387.60)">4</text>
<text x="424.80" y="391.60" font-size="3.6" text-anchor="middle" fill="#474747" textLength="2.40" lengthAdjust="spacingAndGlyphs" transform="rotate(-90 424.80 391.60)">2</text>
<text x="424.80" y="395.80" font-size="3.6" text-anchor="middle" fill="#474747" textLength="2.40" lengthAdjust="spacingAndGlyphs" transform="rotate(-90 424.80 395.80)">0</text>
<text x="424.80" y="400.60" font-size="3.6" text-anchor="middle" fill="#474747" textLength="4.00" lengthAdjust="spacingAndGlyphs" transform="rotate(-90 424.80 400.60)">-2</text>
<text x="424.80" y="406.00" font-size="3.6" text-anchor="middle" fill="#474747" textLength="4.00" lengthAdjust="spacingAndGlyphs" transform="rotate(-90 424.80 406.00)">-4</text>
<line x1="428.50" y1="407.40" x2="428.50" y2="409.60" stroke="#222" stroke-width="0.9" />
<text x="428.50" y="417.74" font-size="5.4" text-anchor="middle" fill="#474747" textLength="2.80" lengthAdjust="spacingAndGlyphs">0</text>
<line x1="447.52" y1="407.40" x2="447.52" y2="409.60" stroke="#222" stroke-width="0.9" />
<text x="447.52" y="417.74" font-size="5.4" text-anchor="middle" fill="#474747" textLength="11.00" lengthAdjust="spacingAndGlyphs">5,000</text>
<line x1="466.55" y1="407.40" x2="466.55" y2="409.60" stroke="#222" stroke-width="0.9" />
<text x="466.55" y="417.74" font-size="5.4" text-anchor="middle" fill="#474747" textLength="13.40" lengthAdjust="spacingAndGlyphs">10,000</text>
<line x1="485.57" y1="407.40" x2="485.57" y2="409.60" stroke="#222" stroke-width="0.9" />
<text x="485.57" y="417.74" font-size="5.4" text-anchor="middle" fill="#474747" textLength="13.20" lengthAdjust="spacingAndGlyphs">15,000</text>
<line x1="504.60" y1="407.40" x2="504.60" y2="409.60" stroke="#222" stroke-width="0.9" />
<text x="504.60" y="417.74" font-size="5.4" text-anchor="middle" fill="#474747" textLength="13.00" lengthAdjust="spacingAndGlyphs">20,000</text>
<text x="442.70" y="427.48" font-size="6.9" fill="#333" textLength="52.90" lengthAdjust="spacingAndGlyphs">Rank in ordered dataset</text>
<line x1="400.30" y1="434.00" x2="403.20" y2="434.00" stroke="#72bf3a" stroke-width="1.0" />
<text x="406.30" y="435.91" font-size="5.3" fill="#474747" textLength="34.90" lengthAdjust="spacingAndGlyphs">Enrichment profile</text>
<line x1="445.50" y1="434.00" x2="447.90" y2="434.00" stroke="#777" stroke-width="0.8" />
<text x="450.30" y="435.91" font-size="5.3" fill="#474747" textLength="7.70" lengthAdjust="spacingAndGlyphs">Hits</text>
<line x1="462.80" y1="434.00" x2="465.30" y2="434.00" stroke="#bbb" stroke-width="0.8" />
<text x="471.20" y="435.91" font-size="5.3" fill="#474747" textLength="42.10" lengthAdjust="spacingAndGlyphs">Ranking metric scores</text>
<text x="468.80" y="321.87" font-size="5.2" text-anchor="middle" fill="#3a3a3a" textLength="32.50" lengthAdjust="spacingAndGlyphs">Enrichment plot:</text>
<text x="468.80" y="326.87" font-size="5.2" text-anchor="middle" fill="#3a3a3a" textLength="55.00" lengthAdjust="spacingAndGlyphs">GO_REGULATION_OF_</text>
<text x="468.80" y="331.87" font-size="5.2" text-anchor="middle" fill="#3a3a3a" textLength="61.00" lengthAdjust="spacingAndGlyphs">ENDOPLASMIC_RETICULUM_</text>
<text x="468.80" y="337.37" font-size="5.2" text-anchor="middle" fill="#3a3a3a" textLength="68.00" lengthAdjust="spacingAndGlyphs">UNFOLDED_PROTEIN_RESPONSE</text>
<text x="471.30" y="350.90" font-size="5.0" fill="#333" textLength="19.00" lengthAdjust="spacingAndGlyphs">FDR &lt;0.01</text>
<text x="471.30" y="356.20" font-size="5.0" fill="#333" textLength="12.50" lengthAdjust="spacingAndGlyphs"><tspan font-style="italic">P</tspan> 0.01</text>
<text x="403.97" y="356.10" font-size="6.3" text-anchor="middle" fill="#3d3d3d" textLength="26.20" lengthAdjust="spacingAndGlyphs" transform="rotate(-90 403.97 356.10)">Enrichment</text>
<text x="412.77" y="356.10" font-size="6.3" text-anchor="middle" fill="#3d3d3d" textLength="21.80" lengthAdjust="spacingAndGlyphs" transform="rotate(-90 412.77 356.10)">score (ES)</text>
<text x="409.07" y="397.20" font-size="6.3" text-anchor="middle" fill="#3d3d3d" textLength="41.40" lengthAdjust="spacingAndGlyphs" transform="rotate(-90 409.07 397.20)">Ranked list metric</text>
<text x="417.07" y="397.20" font-size="6.3" text-anchor="middle" fill="#3d3d3d" textLength="34.20" lengthAdjust="spacingAndGlyphs" transform="rotate(-90 417.07 397.20)">(signal2Noise)</text>
<text x="429.70" y="390.24" font-size="4.0" fill="#cf2e2e" textLength="18.80" lengthAdjust="spacingAndGlyphs">NSC12 (5μM)</text>
<text x="429.70" y="394.64" font-size="4.0" fill="#cf2e2e" textLength="30.40" lengthAdjust="spacingAndGlyphs">(positively correlated)</text>
<text x="444.90" y="397.94" font-size="4.0" fill="#222" textLength="27.00" lengthAdjust="spacingAndGlyphs">Zero cross at 8153</text>
<text x="469.90" y="403.04" font-size="4.0" fill="#4b40b0" textLength="18.80" lengthAdjust="spacingAndGlyphs">NSC12 (5μM)</text>
<text x="469.90" y="406.14" font-size="4.0" fill="#4b40b0" textLength="32.50" lengthAdjust="spacingAndGlyphs">(negatively correlated)</text>
<line x1="27.40" y1="20.50" x2="27.40" y2="133.50" stroke="#555" stroke-width="1.0" />
<line x1="175.20" y1="20.50" x2="175.20" y2="133.50" stroke="#555" stroke-width="1.0" />
<line x1="24.00" y1="180.80" x2="258.10" y2="180.80" stroke="#333" stroke-width="1.3" />
<line x1="282.70" y1="180.80" x2="511.30" y2="180.80" stroke="#333" stroke-width="1.3" />
<line x1="18.60" y1="180.60" x2="18.60" y2="308.80" stroke="#333" stroke-width="1.1" />
<line x1="18.60" y1="317.50" x2="18.60" y2="436.20" stroke="#333" stroke-width="1.1" />
<line x1="277.50" y1="180.60" x2="277.50" y2="309.20" stroke="#333" stroke-width="1.1" />
<line x1="277.50" y1="317.70" x2="277.50" y2="435.50" stroke="#333" stroke-width="1.1" />
<text x="121.20" y="175.80" font-size="8.2" fill="#222" textLength="39.50" lengthAdjust="spacingAndGlyphs" stroke="#222" stroke-width="0.148">ER-STRESS</text>
<text x="389.00" y="175.80" font-size="8.2" fill="#222" textLength="16.00" lengthAdjust="spacingAndGlyphs" stroke="#222" stroke-width="0.148">UPR</text>
<text x="23.16" y="79.45" font-size="9.6" text-anchor="middle" fill="#111" textLength="31.70" lengthAdjust="spacingAndGlyphs" transform="rotate(-90 23.16 79.45)">BCWM.1</text>
<text x="170.86" y="80.10" font-size="9.6" text-anchor="middle" fill="#111" textLength="30.40" lengthAdjust="spacingAndGlyphs" transform="rotate(-90 170.86 80.10)">MWCL.1</text>
<text x="14.07" y="244.90" font-size="8.8" text-anchor="middle" fill="#111" textLength="33.00" lengthAdjust="spacingAndGlyphs" transform="rotate(-90 14.07 244.90)">BCWM.1</text>
<text x="13.87" y="377.25" font-size="8.8" text-anchor="middle" fill="#111" textLength="29.50" lengthAdjust="spacingAndGlyphs" transform="rotate(-90 13.87 377.25)">MWCL1</text>
<text x="272.57" y="259.00" font-size="8.8" text-anchor="middle" fill="#111" textLength="31.60" lengthAdjust="spacingAndGlyphs" transform="rotate(-90 272.57 259.00)">BCWM.1</text>
<text x="272.57" y="376.45" font-size="8.8" text-anchor="middle" fill="#111" textLength="32.30" lengthAdjust="spacingAndGlyphs" transform="rotate(-90 272.57 376.45)">MWCL.1</text>
<rect x="0.00" y="0.00" width="1.20" height="619.00" fill="#000" />
<rect x="0.00" y="0.00" width="520.00" height="1.10" fill="#000" />
<rect x="518.70" y="0.00" width="1.30" height="619.00" fill="#000" />
<rect x="0.00" y="617.70" width="520.00" height="1.30" fill="#000" />
</svg>
</body></html>
